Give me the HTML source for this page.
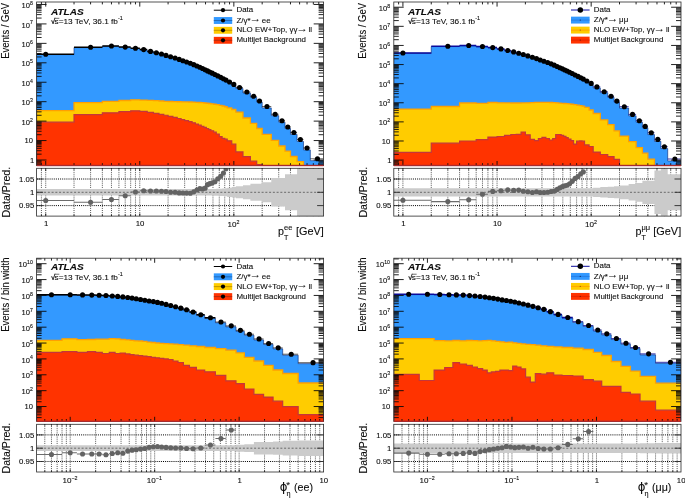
<!DOCTYPE html>
<html lang="en">
<head>
<meta charset="utf-8">
<title>ATLAS Z pT and phi* distributions</title>
<style>
html,body{margin:0;padding:0;background:#fff;}
body{width:685px;height:498px;overflow:hidden;}
svg{display:block;font-family:"Liberation Sans",Arial,Helvetica,sans-serif;}
</style>
</head>
<body>
<svg width="685" height="498" viewBox="0 0 685 498">
<rect width="685" height="498" fill="#fff"/>
<g>
<clipPath id="cma"><rect x="36.6" y="2" width="287" height="163.6"/></clipPath>
<clipPath id="cra"><rect x="36.6" y="168.3" width="287" height="47.8"/></clipPath>
<g clip-path="url(#cma)">
<path d="M36.6 165.6L36.6 54.55L74.03 54.55L74.03 47.55L102.35 47.55L102.35 46.3L118.91 46.3L118.91 47.4L130.66 47.4L130.66 48.5L139.78 48.5L139.78 49.9L147.23 49.9L147.23 51.7L153.52 51.7L153.52 53.1L158.98 53.1L158.98 54.3L163.79 54.3L163.79 55.7L168.09 55.7L168.09 57.1L172.91 57.1L172.91 58.3L177.21 58.3L177.21 59.7L181.1 59.7L181.1 61.1L184.66 61.1L184.66 62.3L188.55 62.3L188.55 63.6L192.11 63.6L192.11 64.96L195.38 64.96L195.38 66.29L198.4 66.29L198.4 67.6L201.22 67.6L201.22 68.85L203.86 68.85L203.86 70.05L206.33 70.05L206.33 71.49L208.67 71.49L208.67 72.57L210.88 72.57L210.88 73.76L213.65 73.76L213.65 75.07L216.24 75.07L216.24 76.48L219.27 76.48L219.27 77.96L222.09 77.96L222.09 79.37L224.73 79.37L224.73 80.71L227.2 80.71L227.2 82.6L231.75 82.6L231.75 85.4L235.83 85.4L235.83 88.45L242.96 88.45L242.96 93L250.4 93L250.4 97.25L256.7 97.25L256.7 102L262.16 102L262.16 107.9L271.27 107.9L271.27 115.65L278.72 115.65L278.72 122.15L285.02 122.15L285.02 128.4L290.47 128.4L290.47 134.4L297.06 134.4L297.06 141.4L303.48 141.4L303.48 149.9L310.31 149.9L310.31 160.65L323.6 160.65L323.6 165.6Z" fill="#3399ff"/>
<path d="M36.6 165.6L36.6 110.6L74.03 110.6L74.03 102.7L102.35 102.7L102.35 101.4L118.91 101.4L118.91 100.5L130.66 100.5L130.66 99.85L139.78 99.85L139.78 100.07L147.23 100.07L147.23 100.32L153.52 100.32L153.52 100.65L158.98 100.65L158.98 101.01L163.79 101.01L163.79 101.31L168.09 101.31L168.09 101.52L172.91 101.52L172.91 101.65L177.21 101.65L177.21 101.74L181.1 101.74L181.1 101.81L184.66 101.81L184.66 101.89L188.55 101.89L188.55 101.99L192.11 101.99L192.11 102.12L195.38 102.12L195.38 102.28L198.4 102.28L198.4 102.49L201.22 102.49L201.22 102.72L203.86 102.72L203.86 102.98L206.33 102.98L206.33 103.25L208.67 103.25L208.67 103.52L210.88 103.52L210.88 103.85L213.65 103.85L213.65 104.24L216.24 104.24L216.24 104.68L219.27 104.68L219.27 105.3L222.09 105.3L222.09 106.01L224.73 106.01L224.73 106.75L227.2 106.75L227.2 107.88L231.75 107.88L231.75 109.5L235.83 109.5L235.83 112.2L242.96 112.2L242.96 118L250.4 118L250.4 123.4L256.7 123.4L256.7 128.5L262.16 128.5L262.16 134.4L271.27 134.4L271.27 140.4L278.72 140.4L278.72 146L285.02 146L285.02 151.1L290.47 151.1L290.47 156.5L297.06 156.5L297.06 161.6L303.48 161.6L303.48 165.6L310.31 165.6L310.31 165.6L323.6 165.6L323.6 165.6Z" fill="#ffcc00"/>
<path d="M36.6 165.6L36.6 110.6L74.03 110.6L74.03 102.7L102.35 102.7L102.35 101.4L118.91 101.4L118.91 100.5L130.66 100.5L130.66 99.85L139.78 99.85L139.78 100.07L147.23 100.07L147.23 100.32L153.52 100.32L153.52 100.65L158.98 100.65L158.98 101.01L163.79 101.01L163.79 101.31L168.09 101.31L168.09 101.52L172.91 101.52L172.91 101.65L177.21 101.65L177.21 101.74L181.1 101.74L181.1 101.81L184.66 101.81L184.66 101.89L188.55 101.89L188.55 101.99L192.11 101.99L192.11 102.12L195.38 102.12L195.38 102.28L198.4 102.28L198.4 102.49L201.22 102.49L201.22 102.72L203.86 102.72L203.86 102.98L206.33 102.98L206.33 103.25L208.67 103.25L208.67 103.52L210.88 103.52L210.88 103.85L213.65 103.85L213.65 104.24L216.24 104.24L216.24 104.68L219.27 104.68L219.27 105.3L222.09 105.3L222.09 106.01L224.73 106.01L224.73 106.75L227.2 106.75L227.2 107.88L231.75 107.88L231.75 109.5L235.83 109.5L235.83 112.2L242.96 112.2L242.96 118L250.4 118L250.4 123.4L256.7 123.4L256.7 128.5L262.16 128.5L262.16 134.4L271.27 134.4L271.27 140.4L278.72 140.4L278.72 146L285.02 146L285.02 151.1L290.47 151.1L290.47 156.5L297.06 156.5L297.06 161.6L303.48 161.6L303.48 165.6L310.31 165.6L310.31 165.6L323.6 165.6L323.6 165.6" fill="none" stroke="#ffa000" stroke-width="1.3"/>
<path d="M36.6 165.6L36.6 122.2L74.03 122.2L74.03 114.7L102.35 114.7L102.35 112.8L118.91 112.8L118.91 111.7L130.66 111.7L130.66 110.8L139.78 110.8L139.78 111.32L147.23 111.32L147.23 112.38L153.52 112.38L153.52 113.34L158.98 113.34L158.98 114.29L163.79 114.29L163.79 115.27L168.09 115.27L168.09 116.34L172.91 116.34L172.91 117.45L177.21 117.45L177.21 118.52L181.1 118.52L181.1 119.54L184.66 119.54L184.66 120.59L188.55 120.59L188.55 121.7L192.11 121.7L192.11 122.83L195.38 122.83L195.38 123.99L198.4 123.99L198.4 125.17L201.22 125.17L201.22 126.33L203.86 126.33L203.86 127.45L206.33 127.45L206.33 128.52L208.67 128.52L208.67 129.54L210.88 129.54L210.88 130.74L213.65 130.74L213.65 132.16L216.24 132.16L216.24 133.99L219.27 133.99L219.27 136.55L222.09 136.55L222.09 138.3L224.73 138.3L224.73 139.22L227.2 139.22L227.2 140.86L231.75 140.86L231.75 144.2L235.83 144.2L235.83 151.9L242.96 151.9L242.96 156.6L250.4 156.6L250.4 161.2L256.7 161.2L256.7 164.7L262.16 164.7L262.16 165.6L271.27 165.6L271.27 165.6L278.72 165.6L278.72 165.6L285.02 165.6L285.02 165.6L290.47 165.6L290.47 165.6L297.06 165.6L297.06 165.6L303.48 165.6L303.48 165.6L310.31 165.6L310.31 165.6L323.6 165.6L323.6 165.6Z" fill="#ff3300"/>
<path d="M36.6 165.6L36.6 122.2L74.03 122.2L74.03 114.7L102.35 114.7L102.35 112.8L118.91 112.8L118.91 111.7L130.66 111.7L130.66 110.8L139.78 110.8L139.78 111.32L147.23 111.32L147.23 112.38L153.52 112.38L153.52 113.34L158.98 113.34L158.98 114.29L163.79 114.29L163.79 115.27L168.09 115.27L168.09 116.34L172.91 116.34L172.91 117.45L177.21 117.45L177.21 118.52L181.1 118.52L181.1 119.54L184.66 119.54L184.66 120.59L188.55 120.59L188.55 121.7L192.11 121.7L192.11 122.83L195.38 122.83L195.38 123.99L198.4 123.99L198.4 125.17L201.22 125.17L201.22 126.33L203.86 126.33L203.86 127.45L206.33 127.45L206.33 128.52L208.67 128.52L208.67 129.54L210.88 129.54L210.88 130.74L213.65 130.74L213.65 132.16L216.24 132.16L216.24 133.99L219.27 133.99L219.27 136.55L222.09 136.55L222.09 138.3L224.73 138.3L224.73 139.22L227.2 139.22L227.2 140.86L231.75 140.86L231.75 144.2L235.83 144.2L235.83 151.9L242.96 151.9L242.96 156.6L250.4 156.6L250.4 161.2L256.7 161.2L256.7 164.7L262.16 164.7L262.16 165.6L271.27 165.6L271.27 165.6L278.72 165.6L278.72 165.6L285.02 165.6L285.02 165.6L290.47 165.6L290.47 165.6L297.06 165.6L297.06 165.6L303.48 165.6L303.48 165.6L310.31 165.6L310.31 165.6L323.6 165.6L323.6 165.6" fill="none" stroke="#c4363a" stroke-width="1.2"/>
<path d="M36.6 165.6L36.6 54.55L74.03 54.55L74.03 47.55L102.35 47.55L102.35 46.3L118.91 46.3L118.91 47.4L130.66 47.4L130.66 48.5L139.78 48.5L139.78 49.9L147.23 49.9L147.23 51.7L153.52 51.7L153.52 53.1L158.98 53.1L158.98 54.3L163.79 54.3L163.79 55.7L168.09 55.7L168.09 57.1L172.91 57.1L172.91 58.3L177.21 58.3L177.21 59.7L181.1 59.7L181.1 61.1L184.66 61.1L184.66 62.3L188.55 62.3L188.55 63.6L192.11 63.6L192.11 64.96L195.38 64.96L195.38 66.29L198.4 66.29L198.4 67.6L201.22 67.6L201.22 68.85L203.86 68.85L203.86 70.05L206.33 70.05L206.33 71.49L208.67 71.49L208.67 72.57L210.88 72.57L210.88 73.76L213.65 73.76L213.65 75.07L216.24 75.07L216.24 76.48L219.27 76.48L219.27 77.96L222.09 77.96L222.09 79.37L224.73 79.37L224.73 80.71L227.2 80.71L227.2 82.6L231.75 82.6L231.75 85.4L235.83 85.4L235.83 88.45L242.96 88.45L242.96 93L250.4 93L250.4 97.25L256.7 97.25L256.7 102L262.16 102L262.16 107.9L271.27 107.9L271.27 115.65L278.72 115.65L278.72 122.15L285.02 122.15L285.02 128.4L290.47 128.4L290.47 134.4L297.06 134.4L297.06 141.4L303.48 141.4L303.48 149.9L310.31 149.9L310.31 160.65L323.6 160.65L323.6 165.6" fill="none" stroke="#0b2f80" stroke-width="0.65"/>
<path d="M36.6 54.25H74.03M74.03 47.25H102.35M102.35 46H118.91M118.91 47.1H130.66M130.66 48.2H139.78M139.78 49.6H147.23M147.23 51.4H153.52M153.52 52.8H158.98M158.98 54H163.79M163.79 55.4H168.09M168.09 56.8H172.91M172.91 58H177.21M177.21 59.4H181.1M181.1 60.8H184.66M184.66 62H188.55M188.55 63.3H192.11M192.11 64.66H195.38M195.38 65.99H198.4M198.4 67.3H201.22M201.22 68.55H203.86M203.86 69.75H206.33M206.33 70.89H208.67M208.67 71.97H210.88M210.88 73.16H213.65M213.65 74.47H216.24M216.24 75.88H219.27M219.27 77.36H222.09M222.09 78.77H224.73M224.73 80.11H227.2" fill="none" stroke="#000" stroke-width="1.5"/>
<path d="M227.2 82H231.75M231.75 84.4H235.83M235.83 87.45H242.96M242.96 92H250.4M250.4 96.25H256.7M256.7 101H262.16M262.16 106.5H271.27M271.27 114.25H278.72M278.72 120.75H285.02M285.02 127H290.47M290.47 132.5H297.06M297.06 139.5H303.48M303.48 148H310.31M310.31 158.75H323.6" fill="none" stroke="#000" stroke-width="0.7" opacity="0.85"/>
</g>
<path d="M36.6 164.31h5M323.6 164.31h-5M36.6 163.01h5M323.6 163.01h-5M36.6 161.88h5M323.6 161.88h-5M36.6 160.89h5M323.6 160.89h-5M36.6 160h9.9M323.6 160h-9.9M36.6 154.15h5M323.6 154.15h-5M36.6 150.72h5M323.6 150.72h-5M36.6 148.3h5M323.6 148.3h-5M36.6 146.41h5M323.6 146.41h-5M36.6 144.87h5M323.6 144.87h-5M36.6 143.57h5M323.6 143.57h-5M36.6 142.44h5M323.6 142.44h-5M36.6 141.45h5M323.6 141.45h-5M36.6 140.56h9.9M323.6 140.56h-9.9M36.6 134.71h5M323.6 134.71h-5M36.6 131.28h5M323.6 131.28h-5M36.6 128.86h5M323.6 128.86h-5M36.6 126.97h5M323.6 126.97h-5M36.6 125.43h5M323.6 125.43h-5M36.6 124.13h5M323.6 124.13h-5M36.6 123h5M323.6 123h-5M36.6 122.01h5M323.6 122.01h-5M36.6 121.12h9.9M323.6 121.12h-9.9M36.6 115.27h5M323.6 115.27h-5M36.6 111.84h5M323.6 111.84h-5M36.6 109.42h5M323.6 109.42h-5M36.6 107.53h5M323.6 107.53h-5M36.6 105.99h5M323.6 105.99h-5M36.6 104.69h5M323.6 104.69h-5M36.6 103.56h5M323.6 103.56h-5M36.6 102.57h5M323.6 102.57h-5M36.6 101.68h9.9M323.6 101.68h-9.9M36.6 95.83h5M323.6 95.83h-5M36.6 92.4h5M323.6 92.4h-5M36.6 89.98h5M323.6 89.98h-5M36.6 88.09h5M323.6 88.09h-5M36.6 86.55h5M323.6 86.55h-5M36.6 85.25h5M323.6 85.25h-5M36.6 84.12h5M323.6 84.12h-5M36.6 83.13h5M323.6 83.13h-5M36.6 82.24h9.9M323.6 82.24h-9.9M36.6 76.39h5M323.6 76.39h-5M36.6 72.96h5M323.6 72.96h-5M36.6 70.54h5M323.6 70.54h-5M36.6 68.65h5M323.6 68.65h-5M36.6 67.11h5M323.6 67.11h-5M36.6 65.81h5M323.6 65.81h-5M36.6 64.68h5M323.6 64.68h-5M36.6 63.69h5M323.6 63.69h-5M36.6 62.8h9.9M323.6 62.8h-9.9M36.6 56.95h5M323.6 56.95h-5M36.6 53.52h5M323.6 53.52h-5M36.6 51.1h5M323.6 51.1h-5M36.6 49.21h5M323.6 49.21h-5M36.6 47.67h5M323.6 47.67h-5M36.6 46.37h5M323.6 46.37h-5M36.6 45.24h5M323.6 45.24h-5M36.6 44.25h5M323.6 44.25h-5M36.6 43.36h9.9M323.6 43.36h-9.9M36.6 37.51h5M323.6 37.51h-5M36.6 34.08h5M323.6 34.08h-5M36.6 31.66h5M323.6 31.66h-5M36.6 29.77h5M323.6 29.77h-5M36.6 28.23h5M323.6 28.23h-5M36.6 26.93h5M323.6 26.93h-5M36.6 25.8h5M323.6 25.8h-5M36.6 24.81h5M323.6 24.81h-5M36.6 23.92h9.9M323.6 23.92h-9.9M36.6 18.07h5M323.6 18.07h-5M36.6 14.64h5M323.6 14.64h-5M36.6 12.22h5M323.6 12.22h-5M36.6 10.33h5M323.6 10.33h-5M36.6 8.79h5M323.6 8.79h-5M36.6 7.49h5M323.6 7.49h-5M36.6 6.36h5M323.6 6.36h-5M36.6 5.37h5M323.6 5.37h-5M36.6 4.48h9.9M323.6 4.48h-9.9M41.41 165.6v-2.4M41.41 2v2.4M41.41 216.1v-1.4M41.41 168.3v1.4M45.72 165.6v-4.6M45.72 2v4.6M45.72 216.1v-2.6M45.72 168.3v2.6M74.03 165.6v-2.4M74.03 2v2.4M74.03 216.1v-1.4M74.03 168.3v1.4M90.59 165.6v-2.4M90.59 2v2.4M90.59 216.1v-1.4M90.59 168.3v1.4M102.35 165.6v-2.4M102.35 2v2.4M102.35 216.1v-1.4M102.35 168.3v1.4M111.46 165.6v-2.4M111.46 2v2.4M111.46 216.1v-1.4M111.46 168.3v1.4M118.91 165.6v-2.4M118.91 2v2.4M118.91 216.1v-1.4M118.91 168.3v1.4M125.21 165.6v-2.4M125.21 2v2.4M125.21 216.1v-1.4M125.21 168.3v1.4M130.66 165.6v-2.4M130.66 2v2.4M130.66 216.1v-1.4M130.66 168.3v1.4M135.47 165.6v-2.4M135.47 2v2.4M135.47 216.1v-1.4M135.47 168.3v1.4M139.78 165.6v-4.6M139.78 2v4.6M139.78 216.1v-2.6M139.78 168.3v2.6M168.09 165.6v-2.4M168.09 2v2.4M168.09 216.1v-1.4M168.09 168.3v1.4M184.66 165.6v-2.4M184.66 2v2.4M184.66 216.1v-1.4M184.66 168.3v1.4M196.41 165.6v-2.4M196.41 2v2.4M196.41 216.1v-1.4M196.41 168.3v1.4M205.53 165.6v-2.4M205.53 2v2.4M205.53 216.1v-1.4M205.53 168.3v1.4M212.97 165.6v-2.4M212.97 2v2.4M212.97 216.1v-1.4M212.97 168.3v1.4M219.27 165.6v-2.4M219.27 2v2.4M219.27 216.1v-1.4M219.27 168.3v1.4M224.73 165.6v-2.4M224.73 2v2.4M224.73 216.1v-1.4M224.73 168.3v1.4M229.54 165.6v-2.4M229.54 2v2.4M229.54 216.1v-1.4M229.54 168.3v1.4M233.84 165.6v-4.6M233.84 2v4.6M233.84 216.1v-2.6M233.84 168.3v2.6M262.16 165.6v-2.4M262.16 2v2.4M262.16 216.1v-1.4M262.16 168.3v1.4M278.72 165.6v-2.4M278.72 2v2.4M278.72 216.1v-1.4M278.72 168.3v1.4M290.47 165.6v-2.4M290.47 2v2.4M290.47 216.1v-1.4M290.47 168.3v1.4M299.59 165.6v-2.4M299.59 2v2.4M299.59 216.1v-1.4M299.59 168.3v1.4M307.04 165.6v-2.4M307.04 2v2.4M307.04 216.1v-1.4M307.04 168.3v1.4M313.33 165.6v-2.4M313.33 2v2.4M313.33 216.1v-1.4M313.33 168.3v1.4M318.79 165.6v-2.4M318.79 2v2.4M318.79 216.1v-1.4M318.79 168.3v1.4" stroke="#0a0a0a" stroke-width="0.9" fill="none"/>
<rect x="36.6" y="2" width="287" height="163.6" fill="none" stroke="#2a2a2a" stroke-width="0.8"/>
<path d="M36.6 165.45H323.6" stroke="#b8282c" stroke-width="1.5" opacity="0.85"/>
<g fill="#000" clip-path="url(#cma)"><circle cx="45.72" cy="54.25" r="2.55"/><circle cx="90.59" cy="47.25" r="2.55"/><circle cx="111.46" cy="46" r="2.55"/><circle cx="125.21" cy="47.1" r="2.55"/><circle cx="135.47" cy="48.2" r="2.55"/><circle cx="143.67" cy="49.6" r="2.55"/><circle cx="150.5" cy="51.4" r="2.55"/><circle cx="156.34" cy="52.8" r="2.55"/><circle cx="161.46" cy="54" r="2.55"/><circle cx="166" cy="55.4" r="2.55"/><circle cx="170.57" cy="56.8" r="2.55"/><circle cx="175.11" cy="58" r="2.55"/><circle cx="179.2" cy="59.4" r="2.55"/><circle cx="182.92" cy="60.8" r="2.55"/><circle cx="186.65" cy="62" r="2.55"/><circle cx="190.37" cy="63.3" r="2.55"/><circle cx="193.77" cy="64.66" r="2.55"/><circle cx="196.92" cy="65.99" r="2.55"/><circle cx="199.84" cy="67.3" r="2.55"/><circle cx="202.56" cy="68.55" r="2.55"/><circle cx="205.11" cy="69.75" r="2.55"/><circle cx="207.52" cy="70.89" r="2.55"/><circle cx="209.79" cy="71.97" r="2.55"/><circle cx="212.29" cy="73.16" r="2.55"/><circle cx="214.97" cy="74.47" r="2.55"/><circle cx="217.79" cy="75.88" r="2.55"/><circle cx="220.7" cy="77.36" r="2.55"/><circle cx="223.43" cy="78.77" r="2.55"/><circle cx="225.98" cy="80.11" r="2.55"/><circle cx="229.54" cy="82" r="2.55"/><circle cx="233.84" cy="84.4" r="2.55"/><circle cx="239.55" cy="87.45" r="2.55"/><circle cx="246.85" cy="92" r="2.55"/><circle cx="253.67" cy="96.25" r="2.55"/><circle cx="259.52" cy="101" r="2.55"/><circle cx="266.97" cy="106.5" r="2.55"/><circle cx="275.17" cy="114.25" r="2.55"/><circle cx="281.99" cy="120.75" r="2.55"/><circle cx="287.84" cy="127" r="2.55"/><circle cx="293.9" cy="132.5" r="2.55"/><circle cx="300.4" cy="139.5" r="2.55"/><circle cx="307.04" cy="148" r="2.55"/><circle cx="317.49" cy="158.75" r="2.55"/></g>
<g clip-path="url(#cra)">
<path d="M37 179H323.6M37 205.6H323.6" stroke="#000" stroke-width="1" stroke-dasharray="1 1.1" fill="none"/>
<path d="M41.41 168V216.1M45.72 168V216.1M74.03 168V216.1M90.59 168V216.1M102.35 168V216.1M111.46 168V216.1M118.91 168V216.1M125.21 168V216.1M130.66 168V216.1M135.47 168V216.1M139.78 168V216.1M168.09 168V216.1M184.66 168V216.1M196.41 168V216.1M205.53 168V216.1M212.97 168V216.1M219.27 168V216.1M224.73 168V216.1M229.54 168V216.1M233.84 168V216.1M262.16 168V216.1M278.72 168V216.1M290.47 168V216.1M299.59 168V216.1M307.04 168V216.1M313.33 168V216.1M318.79 168V216.1" stroke="#111" stroke-width="0.72" stroke-dasharray="1 1.1" fill="none"/>
<path d="M36.6 189.1L36.6 189.1L74.03 189.1L74.03 189.1L102.35 189.1L102.35 189.1L118.91 189.1L118.91 189.1L130.66 189.1L130.66 189.1L139.78 189.1L139.78 189.1L147.23 189.1L147.23 189.1L153.52 189.1L153.52 189.1L158.98 189.1L158.98 189.1L163.79 189.1L163.79 189.1L168.09 189.1L168.09 189.1L172.91 189.1L172.91 189.1L177.21 189.1L177.21 189.1L181.1 189.1L181.1 189.1L184.66 189.1L184.66 189.1L188.55 189.1L188.55 189.1L192.11 189.1L192.11 189.1L195.38 189.1L195.38 189.1L198.4 189.1L198.4 189.1L201.22 189.1L201.22 189.1L203.86 189.1L203.86 189.1L206.33 189.1L206.33 189.1L208.67 189.1L208.67 189.07L210.88 189.07L210.88 188.99L213.65 188.99L213.65 188.89L216.24 188.89L216.24 188.77L219.27 188.77L219.27 188.63L222.09 188.63L222.09 188.49L224.73 188.49L224.73 188.3L227.2 188.3L227.2 187.7L231.75 187.7L231.75 187.1L235.83 187.1L235.83 186.3L242.96 186.3L242.96 185.3L250.4 185.3L250.4 183.8L256.7 183.8L256.7 183.8L262.16 183.8L262.16 182.3L271.27 182.3L271.27 178.1L278.72 178.1L278.72 178.1L285.02 178.1L285.02 174.3L290.47 174.3L290.47 174.3L297.06 174.3L297.06 152.3L303.48 152.3L303.48 152.3L310.31 152.3L310.31 152.3L323.6 152.3L323.6 232.3L310.31 232.3L310.31 232.3L303.48 232.3L303.48 232.3L297.06 232.3L297.06 210.3L290.47 210.3L290.47 210.3L285.02 210.3L285.02 206.5L278.72 206.5L278.72 206.5L271.27 206.5L271.27 202.3L262.16 202.3L262.16 200.8L256.7 200.8L256.7 200.8L250.4 200.8L250.4 199.3L242.96 199.3L242.96 198.3L235.83 198.3L235.83 197.5L231.75 197.5L231.75 196.9L227.2 196.9L227.2 196.3L224.73 196.3L224.73 196.11L222.09 196.11L222.09 195.97L219.27 195.97L219.27 195.83L216.24 195.83L216.24 195.71L213.65 195.71L213.65 195.61L210.88 195.61L210.88 195.53L208.67 195.53L208.67 195.5L206.33 195.5L206.33 195.5L203.86 195.5L203.86 195.5L201.22 195.5L201.22 195.5L198.4 195.5L198.4 195.5L195.38 195.5L195.38 195.5L192.11 195.5L192.11 195.5L188.55 195.5L188.55 195.5L184.66 195.5L184.66 195.5L181.1 195.5L181.1 195.5L177.21 195.5L177.21 195.5L172.91 195.5L172.91 195.5L168.09 195.5L168.09 195.5L163.79 195.5L163.79 195.5L158.98 195.5L158.98 195.5L153.52 195.5L153.52 195.5L147.23 195.5L147.23 195.5L139.78 195.5L139.78 195.5L130.66 195.5L130.66 195.5L118.91 195.5L118.91 195.5L102.35 195.5L102.35 195.5L74.03 195.5L74.03 195.5L36.6 195.5Z" fill="#cbcbcb"/>
<path d="M36.6 192.3H323.6" stroke="#505050" stroke-width="0.8" stroke-dasharray="2 1.75" fill="none"/>
<path d="M36.6 200.51H74.03M74.03 202.25H102.35M102.35 199.47H118.91M118.91 195.72H130.66M130.66 191.98H139.78M139.78 190.75H147.23M147.23 191H153.52M153.52 191H158.98M158.98 191.21H163.79M163.79 191.51H168.09M168.09 192.3H172.91M172.91 192.2H177.21M177.21 192.9H181.1M181.1 192.97H184.66M184.66 193.11H188.55M188.55 193.3H192.11M192.11 191.85H195.38M195.38 189.94H198.4M198.4 188.61H201.22M201.22 188.95H203.86M203.86 188.15H206.33M206.33 184.63H208.67M208.67 183.65H210.88M210.88 182.86H213.65M213.65 181.72H216.24M216.24 178.71H219.27M219.27 176.29H222.09M222.09 173.1H224.73M224.73 168.64H227.2" stroke="#6c6c6c" stroke-width="1.05" fill="none"/>
<g fill="#636363"><circle cx="45.72" cy="200.51" r="2.55"/><circle cx="90.59" cy="202.25" r="2.55"/><circle cx="111.46" cy="199.47" r="2.55"/><circle cx="125.21" cy="195.72" r="2.55"/><circle cx="135.47" cy="191.98" r="2.55"/><circle cx="143.67" cy="190.75" r="2.55"/><circle cx="150.5" cy="191" r="2.55"/><circle cx="156.34" cy="191" r="2.55"/><circle cx="161.46" cy="191.21" r="2.55"/><circle cx="166" cy="191.51" r="2.55"/><circle cx="170.57" cy="192.3" r="2.55"/><circle cx="175.11" cy="192.2" r="2.55"/><circle cx="179.2" cy="192.9" r="2.55"/><circle cx="182.92" cy="192.97" r="2.55"/><circle cx="186.65" cy="193.11" r="2.55"/><circle cx="190.37" cy="193.3" r="2.55"/><circle cx="193.77" cy="191.85" r="2.55"/><circle cx="196.92" cy="189.94" r="2.55"/><circle cx="199.84" cy="188.61" r="2.55"/><circle cx="202.56" cy="188.95" r="2.55"/><circle cx="205.11" cy="188.15" r="2.55"/><circle cx="207.52" cy="184.63" r="2.55"/><circle cx="209.79" cy="183.65" r="2.55"/><circle cx="212.29" cy="182.86" r="2.55"/><circle cx="214.97" cy="181.72" r="2.55"/><circle cx="217.79" cy="178.71" r="2.55"/><circle cx="220.7" cy="176.29" r="2.55"/><circle cx="223.43" cy="173.1" r="2.55"/><circle cx="225.98" cy="168.64" r="2.55"/></g>
</g>
<path d="M36.6 205.6h6.5M323.6 205.6h-6.5M36.6 192.3h6.5M323.6 192.3h-6.5M36.6 179h6.5M323.6 179h-6.5" stroke="#2a2a2a" stroke-width="0.9" fill="none"/>
<rect x="36.6" y="168.3" width="287" height="47.8" fill="none" stroke="#2a2a2a" stroke-width="0.8"/>
<path d="M54.89 18.33h4.45" stroke="#111" stroke-width="0.6"/>
<path d="M213.8 10.2H232.2" stroke="#000" stroke-width="1"/>
<circle cx="223" cy="10.2" r="2.1" fill="#000"/>
<rect x="213.8" y="17.05" width="18.4" height="6.9" fill="#3399ff"/>
<path d="M213.8 20.5H232.2" stroke="#1f5fa8" stroke-width="0.8"/>
<circle cx="223" cy="20.5" r="2.1" fill="#000"/>
<rect x="213.8" y="26.85" width="18.4" height="6.9" fill="#ffcc00"/>
<path d="M213.8 30.3H232.2" stroke="#b38600" stroke-width="0.8"/>
<circle cx="223" cy="30.3" r="2.1" fill="#000"/>
<rect x="213.8" y="36.85" width="18.4" height="6.9" fill="#ff3300"/>
<path d="M213.8 40.3H232.2" stroke="#a02a10" stroke-width="0.8"/>
<circle cx="223" cy="40.3" r="2.1" fill="#000"/>
<g fill="#0c0c0c" stroke="#0c0c0c" stroke-width="0.1"><text transform="translate(34.3 162.74)" font-size="7.6" text-anchor="end">1</text><text transform="translate(33 143.3)" font-size="7.6" text-anchor="end">10</text><text transform="translate(32.8 124.72)" font-size="7.6" text-anchor="end">10<tspan font-size="5.17" dy="-3.04">2</tspan></text><text transform="translate(32.8 105.28)" font-size="7.6" text-anchor="end">10<tspan font-size="5.17" dy="-3.04">3</tspan></text><text transform="translate(32.8 85.84)" font-size="7.6" text-anchor="end">10<tspan font-size="5.17" dy="-3.04">4</tspan></text><text transform="translate(32.8 66.4)" font-size="7.6" text-anchor="end">10<tspan font-size="5.17" dy="-3.04">5</tspan></text><text transform="translate(32.8 46.96)" font-size="7.6" text-anchor="end">10<tspan font-size="5.17" dy="-3.04">6</tspan></text><text transform="translate(32.8 27.52)" font-size="7.6" text-anchor="end">10<tspan font-size="5.17" dy="-3.04">7</tspan></text><text transform="translate(32.8 8.08)" font-size="7.6" text-anchor="end">10<tspan font-size="5.17" dy="-3.04">8</tspan></text><text transform="translate(34.2 181.66) scale(1.05 1)" font-size="7.4" text-anchor="end">1.05</text><text transform="translate(34.2 194.96) scale(1.05 1)" font-size="7.4" text-anchor="end">1</text><text transform="translate(34.2 208.26) scale(1.05 1)" font-size="7.4" text-anchor="end">0.95</text><text transform="translate(46.22 226.4)" font-size="7.8" text-anchor="middle">1</text><text transform="translate(139.98 226.4)" font-size="7.8" text-anchor="middle">10</text><text transform="translate(233.54 227.3)" font-size="8.11" text-anchor="middle">10<tspan font-size="5.3" dy="-3.12">2</tspan></text><text transform="translate(8.8 3) rotate(-90) scale(0.91 1)" font-size="10.4" text-anchor="end">Events / GeV</text><text transform="translate(9.9 192.2) rotate(-90)" font-size="10.6" text-anchor="middle">Data/Pred.</text><text x="278.1" y="234.5" font-size="10.7">p</text><text x="284.1" y="229.9" font-size="7.5">ee</text><text x="284.1" y="240.1" font-size="7.1">T</text><text transform="translate(296.0 234.5) scale(1.02 1)" font-size="10.7">[GeV]</text><text transform="translate(50.9 14.5) scale(1.06 1)" font-size="9.5" font-weight="bold" font-style="italic">ATLAS</text><text transform="translate(50.9 23.9) scale(1.03 1)" font-size="8"><tspan font-size="7.6" dy="0.4" font-weight="bold">√</tspan><tspan dx="-0.64" dy="-0.4">s=13 TeV, 36.1 fb</tspan><tspan font-size="5.28" dy="-3.6">-1</tspan></text><text transform="translate(236.5 12.37) scale(1.03 1)" font-size="7.7">Data</text><text transform="translate(236.5 22.67) scale(1.03 1)" font-size="7.7">Z/γ*<tspan font-size="11" dx="-0.9" dy="-0.75">→</tspan><tspan dy="0.75" dx="-0.6" font-size="5"> </tspan>ee</text><text transform="translate(236.5 32.47) scale(1.03 1)" font-size="7.7">NLO EW+Top, γγ<tspan font-size="11" dx="-0.9" dy="-0.75">→</tspan><tspan dy="0.75" dx="-0.6" font-size="5"> </tspan>ll</text><text transform="translate(236.5 42.47) scale(1.03 1)" font-size="7.7">Multijet Background</text></g>
</g>
<g>
<clipPath id="cmb"><rect x="393.8" y="2" width="287.2" height="163.6"/></clipPath>
<clipPath id="crb"><rect x="393.8" y="168.3" width="287.2" height="47.8"/></clipPath>
<g clip-path="url(#cmb)">
<path d="M393.8 165.6L393.8 53.3L431.26 53.3L431.26 46.55L459.59 46.55L459.59 45.8L476.17 45.8L476.17 46.8L487.93 46.8L487.93 47.9L497.05 47.9L497.05 49.2L504.5 49.2L504.5 50.8L510.81 50.8L510.81 52.2L516.26 52.2L516.26 53.6L521.08 53.6L521.08 54.8L525.39 54.8L525.39 56.2L530.2 56.2L530.2 57.5L534.51 57.5L534.51 58.9L538.4 58.9L538.4 60.3L541.96 60.3L541.96 61.5L545.86 61.5L545.86 62.8L549.41 62.8L549.41 64.15L552.69 64.15L552.69 65.47L555.72 65.47L555.72 66.76L558.54 66.76L558.54 67.99L561.17 67.99L561.17 69.17L563.65 69.17L563.65 70.6L565.99 70.6L565.99 71.67L568.2 71.67L568.2 72.85L570.97 72.85L570.97 74.14L573.57 74.14L573.57 75.53L576.6 75.53L576.6 77L579.42 77L579.42 78.39L582.06 78.39L582.06 79.72L584.54 79.72L584.54 81.6L589.08 81.6L589.08 84.4L593.17 84.4L593.17 87.9L600.3 87.9L600.3 92.7L607.75 92.7L607.75 97.3L614.06 97.3L614.06 102.1L619.51 102.1L619.51 108.1L628.64 108.1L628.64 115.8L636.09 115.8L636.09 122.1L642.39 122.1L642.39 127.8L647.85 127.8L647.85 134.6L654.44 134.6L654.44 141.3L660.87 141.3L660.87 148.6L667.7 148.6L667.7 160.9L681 160.9L681 165.6Z" fill="#3399ff"/>
<path d="M393.8 165.6L393.8 109.1L431.26 109.1L431.26 106.5L459.59 106.5L459.59 103L476.17 103L476.17 103.4L487.93 103.4L487.93 102.5L497.05 102.5L497.05 102.78L504.5 102.78L504.5 102.92L510.81 102.92L510.81 102.98L516.26 102.98L516.26 103L521.08 103L521.08 102.96L525.39 102.96L525.39 102.82L530.2 102.82L530.2 102.63L534.51 102.63L534.51 102.46L538.4 102.46L538.4 102.35L541.96 102.35L541.96 102.3L545.86 102.3L545.86 102.35L549.41 102.35L549.41 102.48L552.69 102.48L552.69 102.65L555.72 102.65L555.72 102.86L558.54 102.86L558.54 103.07L561.17 103.07L561.17 103.29L563.65 103.29L563.65 103.51L565.99 103.51L565.99 103.72L568.2 103.72L568.2 103.96L570.97 103.96L570.97 104.26L573.57 104.26L573.57 104.65L576.6 104.65L576.6 105.13L579.42 105.13L579.42 105.65L582.06 105.65L582.06 106.2L584.54 106.2L584.54 107.41L589.08 107.41L589.08 110L593.17 110L593.17 113.5L600.3 113.5L600.3 119.9L607.75 119.9L607.75 124.7L614.06 124.7L614.06 130.8L619.51 130.8L619.51 136.1L628.64 136.1L628.64 141.6L636.09 141.6L636.09 147.6L642.39 147.6L642.39 153.2L647.85 153.2L647.85 159.2L654.44 159.2L654.44 165.6L660.87 165.6L660.87 165.6L667.7 165.6L667.7 165.6L681 165.6L681 165.6Z" fill="#ffcc00"/>
<path d="M393.8 165.6L393.8 109.1L431.26 109.1L431.26 106.5L459.59 106.5L459.59 103L476.17 103L476.17 103.4L487.93 103.4L487.93 102.5L497.05 102.5L497.05 102.78L504.5 102.78L504.5 102.92L510.81 102.92L510.81 102.98L516.26 102.98L516.26 103L521.08 103L521.08 102.96L525.39 102.96L525.39 102.82L530.2 102.82L530.2 102.63L534.51 102.63L534.51 102.46L538.4 102.46L538.4 102.35L541.96 102.35L541.96 102.3L545.86 102.3L545.86 102.35L549.41 102.35L549.41 102.48L552.69 102.48L552.69 102.65L555.72 102.65L555.72 102.86L558.54 102.86L558.54 103.07L561.17 103.07L561.17 103.29L563.65 103.29L563.65 103.51L565.99 103.51L565.99 103.72L568.2 103.72L568.2 103.96L570.97 103.96L570.97 104.26L573.57 104.26L573.57 104.65L576.6 104.65L576.6 105.13L579.42 105.13L579.42 105.65L582.06 105.65L582.06 106.2L584.54 106.2L584.54 107.41L589.08 107.41L589.08 110L593.17 110L593.17 113.5L600.3 113.5L600.3 119.9L607.75 119.9L607.75 124.7L614.06 124.7L614.06 130.8L619.51 130.8L619.51 136.1L628.64 136.1L628.64 141.6L636.09 141.6L636.09 147.6L642.39 147.6L642.39 153.2L647.85 153.2L647.85 159.2L654.44 159.2L654.44 165.6L660.87 165.6L660.87 165.6L667.7 165.6L667.7 165.6L681 165.6L681 165.6" fill="none" stroke="#ffa000" stroke-width="1.3"/>
<path d="M393.8 165.6L393.8 152.4L431.26 152.4L431.26 143.2L459.59 143.2L459.59 141L476.17 141L476.17 139.7L487.93 139.7L487.93 137.1L497.05 137.1L497.05 136.5L504.5 136.5L504.5 135.4L510.81 135.4L510.81 134.5L516.26 134.5L516.26 134.3L521.08 134.3L521.08 132L525.39 132L525.39 134.8L530.2 134.8L530.2 139.3L534.51 139.3L534.51 140.6L538.4 140.6L538.4 138.5L541.96 138.5L541.96 137.3L545.86 137.3L545.86 138.5L549.41 138.5L549.41 140L552.69 140L552.69 138.5L555.72 138.5L555.72 134.5L558.54 134.5L558.54 134.5L561.17 134.5L561.17 135.3L563.65 135.3L563.65 136.4L565.99 136.4L565.99 137.7L568.2 137.7L568.2 139L570.97 139L570.97 140.6L573.57 140.6L573.57 144.1L576.6 144.1L576.6 141.2L579.42 141.2L579.42 140.9L582.06 140.9L582.06 141.2L584.54 141.2L584.54 144.9L589.08 144.9L589.08 146.5L593.17 146.5L593.17 152.1L600.3 152.1L600.3 154.5L607.75 154.5L607.75 156.6L614.06 156.6L614.06 159.3L619.51 159.3L619.51 165.6L628.64 165.6L628.64 165.6L636.09 165.6L636.09 165.6L642.39 165.6L642.39 165.6L647.85 165.6L647.85 165.6L654.44 165.6L654.44 165.6L660.87 165.6L660.87 165.6L667.7 165.6L667.7 165.6L681 165.6L681 165.6Z" fill="#ff3300"/>
<path d="M393.8 165.6L393.8 152.4L431.26 152.4L431.26 143.2L459.59 143.2L459.59 141L476.17 141L476.17 139.7L487.93 139.7L487.93 137.1L497.05 137.1L497.05 136.5L504.5 136.5L504.5 135.4L510.81 135.4L510.81 134.5L516.26 134.5L516.26 134.3L521.08 134.3L521.08 132L525.39 132L525.39 134.8L530.2 134.8L530.2 139.3L534.51 139.3L534.51 140.6L538.4 140.6L538.4 138.5L541.96 138.5L541.96 137.3L545.86 137.3L545.86 138.5L549.41 138.5L549.41 140L552.69 140L552.69 138.5L555.72 138.5L555.72 134.5L558.54 134.5L558.54 134.5L561.17 134.5L561.17 135.3L563.65 135.3L563.65 136.4L565.99 136.4L565.99 137.7L568.2 137.7L568.2 139L570.97 139L570.97 140.6L573.57 140.6L573.57 144.1L576.6 144.1L576.6 141.2L579.42 141.2L579.42 140.9L582.06 140.9L582.06 141.2L584.54 141.2L584.54 144.9L589.08 144.9L589.08 146.5L593.17 146.5L593.17 152.1L600.3 152.1L600.3 154.5L607.75 154.5L607.75 156.6L614.06 156.6L614.06 159.3L619.51 159.3L619.51 165.6L628.64 165.6L628.64 165.6L636.09 165.6L636.09 165.6L642.39 165.6L642.39 165.6L647.85 165.6L647.85 165.6L654.44 165.6L654.44 165.6L660.87 165.6L660.87 165.6L667.7 165.6L667.7 165.6L681 165.6L681 165.6" fill="none" stroke="#c4363a" stroke-width="1.2"/>
<path d="M393.8 165.6L393.8 53.3L431.26 53.3L431.26 46.55L459.59 46.55L459.59 45.8L476.17 45.8L476.17 46.8L487.93 46.8L487.93 47.9L497.05 47.9L497.05 49.2L504.5 49.2L504.5 50.8L510.81 50.8L510.81 52.2L516.26 52.2L516.26 53.6L521.08 53.6L521.08 54.8L525.39 54.8L525.39 56.2L530.2 56.2L530.2 57.5L534.51 57.5L534.51 58.9L538.4 58.9L538.4 60.3L541.96 60.3L541.96 61.5L545.86 61.5L545.86 62.8L549.41 62.8L549.41 64.15L552.69 64.15L552.69 65.47L555.72 65.47L555.72 66.76L558.54 66.76L558.54 67.99L561.17 67.99L561.17 69.17L563.65 69.17L563.65 70.6L565.99 70.6L565.99 71.67L568.2 71.67L568.2 72.85L570.97 72.85L570.97 74.14L573.57 74.14L573.57 75.53L576.6 75.53L576.6 77L579.42 77L579.42 78.39L582.06 78.39L582.06 79.72L584.54 79.72L584.54 81.6L589.08 81.6L589.08 84.4L593.17 84.4L593.17 87.9L600.3 87.9L600.3 92.7L607.75 92.7L607.75 97.3L614.06 97.3L614.06 102.1L619.51 102.1L619.51 108.1L628.64 108.1L628.64 115.8L636.09 115.8L636.09 122.1L642.39 122.1L642.39 127.8L647.85 127.8L647.85 134.6L654.44 134.6L654.44 141.3L660.87 141.3L660.87 148.6L667.7 148.6L667.7 160.9L681 160.9L681 165.6" fill="none" stroke="#0b2f80" stroke-width="0.65"/>
<path d="M393.8 53H431.26M431.26 46.25H459.59M459.59 45.5H476.17M476.17 46.5H487.93M487.93 47.6H497.05M497.05 48.9H504.5M504.5 50.5H510.81M510.81 51.9H516.26M516.26 53.3H521.08M521.08 54.5H525.39M525.39 55.9H530.2M530.2 57.2H534.51M534.51 58.6H538.4M538.4 60H541.96M541.96 61.2H545.86M545.86 62.5H549.41M549.41 63.85H552.69M552.69 65.17H555.72M555.72 66.46H558.54M558.54 67.69H561.17M561.17 68.87H563.65M563.65 70H565.99M565.99 71.07H568.2M568.2 72.25H570.97M570.97 73.54H573.57M573.57 74.93H576.6M576.6 76.4H579.42M579.42 77.79H582.06M582.06 79.12H584.54" fill="none" stroke="#0a0a9c" stroke-width="1.5"/>
<path d="M584.54 81H589.08M589.08 83.4H593.17M593.17 86.9H600.3M600.3 91.7H607.75M607.75 96.3H614.06M614.06 101.1H619.51M619.51 106.7H628.64M628.64 114.4H636.09M636.09 120.7H642.39M642.39 126.4H647.85M647.85 132.7H654.44M654.44 139.4H660.87M660.87 146.7H667.7M667.7 159H681" fill="none" stroke="#0a0a9c" stroke-width="0.95" opacity="0.85"/>
</g>
<path d="M393.8 164.34h5M681 164.34h-5M393.8 163.06h5M681 163.06h-5M393.8 161.95h5M681 161.95h-5M393.8 160.97h5M681 160.97h-5M393.8 160.1h9.9M681 160.1h-9.9M393.8 154.35h5M681 154.35h-5M393.8 150.98h5M681 150.98h-5M393.8 148.59h5M681 148.59h-5M393.8 146.74h5M681 146.74h-5M393.8 145.23h5M681 145.23h-5M393.8 143.95h5M681 143.95h-5M393.8 142.84h5M681 142.84h-5M393.8 141.86h5M681 141.86h-5M393.8 140.99h9.9M681 140.99h-9.9M393.8 135.24h5M681 135.24h-5M393.8 131.87h5M681 131.87h-5M393.8 129.48h5M681 129.48h-5M393.8 127.63h5M681 127.63h-5M393.8 126.12h5M681 126.12h-5M393.8 124.84h5M681 124.84h-5M393.8 123.73h5M681 123.73h-5M393.8 122.75h5M681 122.75h-5M393.8 121.88h9.9M681 121.88h-9.9M393.8 116.13h5M681 116.13h-5M393.8 112.76h5M681 112.76h-5M393.8 110.37h5M681 110.37h-5M393.8 108.52h5M681 108.52h-5M393.8 107.01h5M681 107.01h-5M393.8 105.73h5M681 105.73h-5M393.8 104.62h5M681 104.62h-5M393.8 103.64h5M681 103.64h-5M393.8 102.77h9.9M681 102.77h-9.9M393.8 97.02h5M681 97.02h-5M393.8 93.65h5M681 93.65h-5M393.8 91.26h5M681 91.26h-5M393.8 89.41h5M681 89.41h-5M393.8 87.9h5M681 87.9h-5M393.8 86.62h5M681 86.62h-5M393.8 85.51h5M681 85.51h-5M393.8 84.53h5M681 84.53h-5M393.8 83.66h9.9M681 83.66h-9.9M393.8 77.91h5M681 77.91h-5M393.8 74.54h5M681 74.54h-5M393.8 72.15h5M681 72.15h-5M393.8 70.3h5M681 70.3h-5M393.8 68.79h5M681 68.79h-5M393.8 67.51h5M681 67.51h-5M393.8 66.4h5M681 66.4h-5M393.8 65.42h5M681 65.42h-5M393.8 64.55h9.9M681 64.55h-9.9M393.8 58.8h5M681 58.8h-5M393.8 55.43h5M681 55.43h-5M393.8 53.04h5M681 53.04h-5M393.8 51.19h5M681 51.19h-5M393.8 49.68h5M681 49.68h-5M393.8 48.4h5M681 48.4h-5M393.8 47.29h5M681 47.29h-5M393.8 46.31h5M681 46.31h-5M393.8 45.44h9.9M681 45.44h-9.9M393.8 39.69h5M681 39.69h-5M393.8 36.32h5M681 36.32h-5M393.8 33.93h5M681 33.93h-5M393.8 32.08h5M681 32.08h-5M393.8 30.57h5M681 30.57h-5M393.8 29.29h5M681 29.29h-5M393.8 28.18h5M681 28.18h-5M393.8 27.2h5M681 27.2h-5M393.8 26.33h9.9M681 26.33h-9.9M393.8 20.58h5M681 20.58h-5M393.8 17.21h5M681 17.21h-5M393.8 14.82h5M681 14.82h-5M393.8 12.97h5M681 12.97h-5M393.8 11.46h5M681 11.46h-5M393.8 10.18h5M681 10.18h-5M393.8 9.07h5M681 9.07h-5M393.8 8.09h5M681 8.09h-5M393.8 7.22h9.9M681 7.22h-9.9M398.61 165.6v-2.4M398.61 2v2.4M398.61 216.1v-1.4M398.61 168.3v1.4M402.92 165.6v-4.6M402.92 2v4.6M402.92 216.1v-2.6M402.92 168.3v2.6M431.26 165.6v-2.4M431.26 2v2.4M431.26 216.1v-1.4M431.26 168.3v1.4M447.83 165.6v-2.4M447.83 2v2.4M447.83 216.1v-1.4M447.83 168.3v1.4M459.59 165.6v-2.4M459.59 2v2.4M459.59 216.1v-1.4M459.59 168.3v1.4M468.71 165.6v-2.4M468.71 2v2.4M468.71 216.1v-1.4M468.71 168.3v1.4M476.17 165.6v-2.4M476.17 2v2.4M476.17 216.1v-1.4M476.17 168.3v1.4M482.47 165.6v-2.4M482.47 2v2.4M482.47 216.1v-1.4M482.47 168.3v1.4M487.93 165.6v-2.4M487.93 2v2.4M487.93 216.1v-1.4M487.93 168.3v1.4M492.74 165.6v-2.4M492.74 2v2.4M492.74 216.1v-1.4M492.74 168.3v1.4M497.05 165.6v-4.6M497.05 2v4.6M497.05 216.1v-2.6M497.05 168.3v2.6M525.39 165.6v-2.4M525.39 2v2.4M525.39 216.1v-1.4M525.39 168.3v1.4M541.96 165.6v-2.4M541.96 2v2.4M541.96 216.1v-1.4M541.96 168.3v1.4M553.72 165.6v-2.4M553.72 2v2.4M553.72 216.1v-1.4M553.72 168.3v1.4M562.84 165.6v-2.4M562.84 2v2.4M562.84 216.1v-1.4M562.84 168.3v1.4M570.3 165.6v-2.4M570.3 2v2.4M570.3 216.1v-1.4M570.3 168.3v1.4M576.6 165.6v-2.4M576.6 2v2.4M576.6 216.1v-1.4M576.6 168.3v1.4M582.06 165.6v-2.4M582.06 2v2.4M582.06 216.1v-1.4M582.06 168.3v1.4M586.87 165.6v-2.4M586.87 2v2.4M586.87 216.1v-1.4M586.87 168.3v1.4M591.18 165.6v-4.6M591.18 2v4.6M591.18 216.1v-2.6M591.18 168.3v2.6M619.51 165.6v-2.4M619.51 2v2.4M619.51 216.1v-1.4M619.51 168.3v1.4M636.09 165.6v-2.4M636.09 2v2.4M636.09 216.1v-1.4M636.09 168.3v1.4M647.85 165.6v-2.4M647.85 2v2.4M647.85 216.1v-1.4M647.85 168.3v1.4M656.97 165.6v-2.4M656.97 2v2.4M656.97 216.1v-1.4M656.97 168.3v1.4M664.42 165.6v-2.4M664.42 2v2.4M664.42 216.1v-1.4M664.42 168.3v1.4M670.73 165.6v-2.4M670.73 2v2.4M670.73 216.1v-1.4M670.73 168.3v1.4M676.19 165.6v-2.4M676.19 2v2.4M676.19 216.1v-1.4M676.19 168.3v1.4" stroke="#0a0a0a" stroke-width="0.9" fill="none"/>
<rect x="393.8" y="2" width="287.2" height="163.6" fill="none" stroke="#2a2a2a" stroke-width="0.8"/>
<path d="M393.8 165.45H681" stroke="#b8282c" stroke-width="1.5" opacity="0.85"/>
<g fill="#000" clip-path="url(#cmb)"><circle cx="402.92" cy="53" r="2.55"/><circle cx="447.83" cy="46.25" r="2.55"/><circle cx="468.71" cy="45.5" r="2.55"/><circle cx="482.47" cy="46.5" r="2.55"/><circle cx="492.74" cy="47.6" r="2.55"/><circle cx="500.95" cy="48.9" r="2.55"/><circle cx="507.78" cy="50.5" r="2.55"/><circle cx="513.63" cy="51.9" r="2.55"/><circle cx="518.74" cy="53.3" r="2.55"/><circle cx="523.29" cy="54.5" r="2.55"/><circle cx="527.86" cy="55.9" r="2.55"/><circle cx="532.41" cy="57.2" r="2.55"/><circle cx="536.5" cy="58.6" r="2.55"/><circle cx="540.22" cy="60" r="2.55"/><circle cx="543.96" cy="61.2" r="2.55"/><circle cx="547.67" cy="62.5" r="2.55"/><circle cx="551.08" cy="63.85" r="2.55"/><circle cx="554.23" cy="65.17" r="2.55"/><circle cx="557.15" cy="66.46" r="2.55"/><circle cx="559.88" cy="67.69" r="2.55"/><circle cx="562.43" cy="68.87" r="2.55"/><circle cx="564.84" cy="70" r="2.55"/><circle cx="567.11" cy="71.07" r="2.55"/><circle cx="569.61" cy="72.25" r="2.55"/><circle cx="572.29" cy="73.54" r="2.55"/><circle cx="575.11" cy="74.93" r="2.55"/><circle cx="578.03" cy="76.4" r="2.55"/><circle cx="580.76" cy="77.79" r="2.55"/><circle cx="583.31" cy="79.12" r="2.55"/><circle cx="586.87" cy="81" r="2.55"/><circle cx="591.18" cy="83.4" r="2.55"/><circle cx="596.89" cy="86.9" r="2.55"/><circle cx="604.2" cy="91.7" r="2.55"/><circle cx="611.03" cy="96.3" r="2.55"/><circle cx="616.88" cy="101.1" r="2.55"/><circle cx="624.33" cy="106.7" r="2.55"/><circle cx="632.53" cy="114.4" r="2.55"/><circle cx="639.36" cy="120.7" r="2.55"/><circle cx="645.21" cy="126.4" r="2.55"/><circle cx="651.28" cy="132.7" r="2.55"/><circle cx="657.78" cy="139.4" r="2.55"/><circle cx="664.42" cy="146.7" r="2.55"/><circle cx="674.89" cy="159" r="2.55"/></g>
<g clip-path="url(#crb)">
<path d="M394 179H681M394 205.6H681" stroke="#000" stroke-width="1" stroke-dasharray="1 1.1" fill="none"/>
<path d="M398.61 168V216.1M402.92 168V216.1M431.26 168V216.1M447.83 168V216.1M459.59 168V216.1M468.71 168V216.1M476.17 168V216.1M482.47 168V216.1M487.93 168V216.1M492.74 168V216.1M497.05 168V216.1M525.39 168V216.1M541.96 168V216.1M553.72 168V216.1M562.84 168V216.1M570.3 168V216.1M576.6 168V216.1M582.06 168V216.1M586.87 168V216.1M591.18 168V216.1M619.51 168V216.1M636.09 168V216.1M647.85 168V216.1M656.97 168V216.1M664.42 168V216.1M670.73 168V216.1M676.19 168V216.1" stroke="#111" stroke-width="0.72" stroke-dasharray="1 1.1" fill="none"/>
<path d="M393.8 188.2L393.8 188.2L431.26 188.2L431.26 188.2L459.59 188.2L459.59 188.2L476.17 188.2L476.17 188.2L487.93 188.2L487.93 188.2L497.05 188.2L497.05 188.2L504.5 188.2L504.5 188.2L510.81 188.2L510.81 188.2L516.26 188.2L516.26 188.2L521.08 188.2L521.08 188.2L525.39 188.2L525.39 188.2L530.2 188.2L530.2 188.2L534.51 188.2L534.51 188.2L538.4 188.2L538.4 188.2L541.96 188.2L541.96 188.2L545.86 188.2L545.86 188.2L549.41 188.2L549.41 188.2L552.69 188.2L552.69 188.2L555.72 188.2L555.72 188.2L558.54 188.2L558.54 188.2L561.17 188.2L561.17 188.2L563.65 188.2L563.65 188.2L565.99 188.2L565.99 188.2L568.2 188.2L568.2 188.2L570.97 188.2L570.97 188.2L573.57 188.2L573.57 188.2L576.6 188.2L576.6 188.2L579.42 188.2L579.42 188.2L582.06 188.2L582.06 188.2L584.54 188.2L584.54 188.2L589.08 188.2L589.08 188.2L593.17 188.2L593.17 187.7L600.3 187.7L600.3 187.1L607.75 187.1L607.75 186.7L614.06 186.7L614.06 186.3L619.51 186.3L619.51 185.4L628.64 185.4L628.64 184.1L636.09 184.1L636.09 182.9L642.39 182.9L642.39 180.7L647.85 180.7L647.85 180.7L654.44 180.7L654.44 170.5L660.87 170.5L660.87 152.3L667.7 152.3L667.7 174.3L681 174.3L681 210.3L667.7 210.3L667.7 232.3L660.87 232.3L660.87 214.1L654.44 214.1L654.44 203.9L647.85 203.9L647.85 203.9L642.39 203.9L642.39 201.7L636.09 201.7L636.09 200.5L628.64 200.5L628.64 199.2L619.51 199.2L619.51 198.3L614.06 198.3L614.06 197.9L607.75 197.9L607.75 197.5L600.3 197.5L600.3 196.9L593.17 196.9L593.17 196.4L589.08 196.4L589.08 196.4L584.54 196.4L584.54 196.4L582.06 196.4L582.06 196.4L579.42 196.4L579.42 196.4L576.6 196.4L576.6 196.4L573.57 196.4L573.57 196.4L570.97 196.4L570.97 196.4L568.2 196.4L568.2 196.4L565.99 196.4L565.99 196.4L563.65 196.4L563.65 196.4L561.17 196.4L561.17 196.4L558.54 196.4L558.54 196.4L555.72 196.4L555.72 196.4L552.69 196.4L552.69 196.4L549.41 196.4L549.41 196.4L545.86 196.4L545.86 196.4L541.96 196.4L541.96 196.4L538.4 196.4L538.4 196.4L534.51 196.4L534.51 196.4L530.2 196.4L530.2 196.4L525.39 196.4L525.39 196.4L521.08 196.4L521.08 196.4L516.26 196.4L516.26 196.4L510.81 196.4L510.81 196.4L504.5 196.4L504.5 196.4L497.05 196.4L497.05 196.4L487.93 196.4L487.93 196.4L476.17 196.4L476.17 196.4L459.59 196.4L459.59 196.4L431.26 196.4L431.26 196.4L393.8 196.4Z" fill="#cbcbcb"/>
<path d="M393.8 192.3H681" stroke="#505050" stroke-width="0.8" stroke-dasharray="2 1.75" fill="none"/>
<path d="M393.8 200.3H431.26M431.26 201.6H459.59M459.59 199.8H476.17M476.17 194.31H487.93M487.93 191.39H497.05M497.05 190.7H504.5M504.5 189.9H510.81M510.81 190.4H516.26M516.26 190H521.08M521.08 191.2H525.39M525.39 191.7H530.2M530.2 192.5H534.51M534.51 191.7H538.4M538.4 192.49H541.96M541.96 192.5H545.86M545.86 192.25H549.41M549.41 191.55H552.69M552.69 191.08H555.72M555.72 189.42H558.54M558.54 187.87H561.17M561.17 186.66H563.65M563.65 185.82H565.99M565.99 185.27H568.2M568.2 183.78H570.97M570.97 181.35H573.57M573.57 178.4H576.6M576.6 176.43H579.42M579.42 173.71H582.06M582.06 171.9H584.54" stroke="#6c6c6c" stroke-width="1.05" fill="none"/>
<g fill="#636363"><circle cx="402.92" cy="200.3" r="2.55"/><circle cx="447.83" cy="201.6" r="2.55"/><circle cx="468.71" cy="199.8" r="2.55"/><circle cx="482.47" cy="194.31" r="2.55"/><circle cx="492.74" cy="191.39" r="2.55"/><circle cx="500.95" cy="190.7" r="2.55"/><circle cx="507.78" cy="189.9" r="2.55"/><circle cx="513.63" cy="190.4" r="2.55"/><circle cx="518.74" cy="190" r="2.55"/><circle cx="523.29" cy="191.2" r="2.55"/><circle cx="527.86" cy="191.7" r="2.55"/><circle cx="532.41" cy="192.5" r="2.55"/><circle cx="536.5" cy="191.7" r="2.55"/><circle cx="540.22" cy="192.49" r="2.55"/><circle cx="543.96" cy="192.5" r="2.55"/><circle cx="547.67" cy="192.25" r="2.55"/><circle cx="551.08" cy="191.55" r="2.55"/><circle cx="554.23" cy="191.08" r="2.55"/><circle cx="557.15" cy="189.42" r="2.55"/><circle cx="559.88" cy="187.87" r="2.55"/><circle cx="562.43" cy="186.66" r="2.55"/><circle cx="564.84" cy="185.82" r="2.55"/><circle cx="567.11" cy="185.27" r="2.55"/><circle cx="569.61" cy="183.78" r="2.55"/><circle cx="572.29" cy="181.35" r="2.55"/><circle cx="575.11" cy="178.4" r="2.55"/><circle cx="578.03" cy="176.43" r="2.55"/><circle cx="580.76" cy="173.71" r="2.55"/><circle cx="583.31" cy="171.9" r="2.55"/></g>
</g>
<path d="M393.8 205.6h6.5M681 205.6h-6.5M393.8 192.3h6.5M681 192.3h-6.5M393.8 179h6.5M681 179h-6.5" stroke="#2a2a2a" stroke-width="0.9" fill="none"/>
<rect x="393.8" y="168.3" width="287.2" height="47.8" fill="none" stroke="#2a2a2a" stroke-width="0.8"/>
<path d="M412.19 18.33h4.45" stroke="#111" stroke-width="0.6"/>
<path d="M571 10H589.6" stroke="#0a0a9c" stroke-width="1"/>
<circle cx="580.3" cy="10" r="2.75" fill="#000"/>
<rect x="571" y="16.65" width="18.6" height="6.9" fill="#3399ff"/>
<path d="M571 20.1H589.6" stroke="#2277dd" stroke-width="0.8"/>
<circle cx="580.3" cy="20.1" r="0.7" fill="#123a7a"/>
<rect x="571" y="26.65" width="18.6" height="6.9" fill="#ffcc00"/>
<path d="M571 30.1H589.6" stroke="#ff9900" stroke-width="0.8"/>
<circle cx="580.3" cy="30.1" r="0.7" fill="#a86a00"/>
<rect x="571" y="36.65" width="18.6" height="6.9" fill="#ff3300"/>
<path d="M571 40.1H589.6" stroke="#dd2200" stroke-width="0.8"/>
<circle cx="580.3" cy="40.1" r="0.7" fill="#8a1c00"/>
<g fill="#0c0c0c" stroke="#0c0c0c" stroke-width="0.1"><text transform="translate(391.5 162.84)" font-size="7.6" text-anchor="end">1</text><text transform="translate(390.2 143.73)" font-size="7.6" text-anchor="end">10</text><text transform="translate(390 125.48)" font-size="7.6" text-anchor="end">10<tspan font-size="5.17" dy="-3.04">2</tspan></text><text transform="translate(390 106.37)" font-size="7.6" text-anchor="end">10<tspan font-size="5.17" dy="-3.04">3</tspan></text><text transform="translate(390 87.26)" font-size="7.6" text-anchor="end">10<tspan font-size="5.17" dy="-3.04">4</tspan></text><text transform="translate(390 68.15)" font-size="7.6" text-anchor="end">10<tspan font-size="5.17" dy="-3.04">5</tspan></text><text transform="translate(390 49.04)" font-size="7.6" text-anchor="end">10<tspan font-size="5.17" dy="-3.04">6</tspan></text><text transform="translate(390 29.93)" font-size="7.6" text-anchor="end">10<tspan font-size="5.17" dy="-3.04">7</tspan></text><text transform="translate(390 10.82)" font-size="7.6" text-anchor="end">10<tspan font-size="5.17" dy="-3.04">8</tspan></text><text transform="translate(391.4 181.66) scale(1.05 1)" font-size="7.4" text-anchor="end">1.05</text><text transform="translate(391.4 194.96) scale(1.05 1)" font-size="7.4" text-anchor="end">1</text><text transform="translate(391.4 208.26) scale(1.05 1)" font-size="7.4" text-anchor="end">0.95</text><text transform="translate(403.42 226.4)" font-size="7.8" text-anchor="middle">1</text><text transform="translate(497.25 226.4)" font-size="7.8" text-anchor="middle">10</text><text transform="translate(590.88 227.3)" font-size="8.11" text-anchor="middle">10<tspan font-size="5.3" dy="-3.12">2</tspan></text><text transform="translate(366 3) rotate(-90) scale(0.91 1)" font-size="10.4" text-anchor="end">Events / GeV</text><text transform="translate(367.2 192.2) rotate(-90)" font-size="10.6" text-anchor="middle">Data/Pred.</text><text x="635.4" y="234.5" font-size="10.7">p</text><text x="641.4" y="229.9" font-size="7.5">μμ</text><text x="641.4" y="240.1" font-size="7.1">T</text><text transform="translate(653.3 234.5) scale(1.02 1)" font-size="10.7">[GeV]</text><text transform="translate(408.1 14.5) scale(1.06 1)" font-size="9.5" font-weight="bold" font-style="italic">ATLAS</text><text transform="translate(408.2 23.9) scale(1.03 1)" font-size="8"><tspan font-size="7.6" dy="0.4" font-weight="bold">√</tspan><tspan dx="-0.64" dy="-0.4">s=13 TeV, 36.1 fb</tspan><tspan font-size="5.28" dy="-3.6">-1</tspan></text><text transform="translate(593.8 12.17) scale(1.03 1)" font-size="7.7">Data</text><text transform="translate(593.8 22.27) scale(1.03 1)" font-size="7.7">Z/γ*<tspan font-size="11" dx="-0.9" dy="-0.75">→</tspan><tspan dy="0.75" dx="-0.6" font-size="5"> </tspan>μμ</text><text transform="translate(593.8 32.27) scale(1.03 1)" font-size="7.7">NLO EW+Top, γγ<tspan font-size="11" dx="-0.9" dy="-0.75">→</tspan><tspan dy="0.75" dx="-0.6" font-size="5"> </tspan>ll</text><text transform="translate(593.8 42.27) scale(1.03 1)" font-size="7.7">Multijet Background</text></g>
</g>
<g>
<clipPath id="cmc"><rect x="36.6" y="258.2" width="287" height="163.2"/></clipPath>
<clipPath id="crc"><rect x="36.6" y="424.3" width="287" height="47.7"/></clipPath>
<g clip-path="url(#cmc)">
<path d="M36.6 421.4L36.6 295L62.03 295L62.03 295L76.9 295L76.9 295.2L87.45 295.2L87.45 295.39L95.64 295.39L95.64 295.6L102.32 295.6L102.32 295.8L109.27 295.8L109.27 296.3L115.1 296.3L115.1 296.69L120.13 296.69L120.13 297.21L125.38 297.21L125.38 297.81L129.97 297.81L129.97 298.41L134.05 298.41L134.05 299.04L138.3 299.04L138.3 299.81L142.62 299.81L142.62 300.61L146.94 300.61L146.94 301.26L151.21 301.26L151.21 301.89L155.4 301.89L155.4 302.69L159.48 302.69L159.48 303.62L163.73 303.62L163.73 304.68L168.3 304.68L168.3 305.84L173.04 305.84L173.04 307L178.02 307L178.02 308.46L183.43 308.46L183.43 310.03L189.44 310.03L189.44 312.32L196.41 312.32L196.41 315.16L204.69 315.16L204.69 318.38L215.43 318.38L215.43 322.74L225.79 322.74L225.79 326.8L236 326.8L236 331.36L244.36 331.36L244.36 335.18L253.91 335.18L253.91 339.89L263.58 339.89L263.58 344.53L273.07 344.53L273.07 348.85L282.68 348.85L282.68 355.19L298.17 355.19L298.17 363.65L323.6 363.65L323.6 421.4Z" fill="#3399ff"/>
<path d="M36.6 421.4L36.6 340.3L62.03 340.3L62.03 338.8L76.9 338.8L76.9 339.7L87.45 339.7L87.45 339.5L95.64 339.5L95.64 339.2L102.32 339.2L102.32 339.2L109.27 339.2L109.27 338.6L115.1 338.6L115.1 338.8L120.13 338.8L120.13 339.5L125.38 339.5L125.38 339.9L129.97 339.9L129.97 340.3L134.05 340.3L134.05 340.8L138.3 340.8L138.3 341L142.62 341L142.62 341.4L146.94 341.4L146.94 342.1L151.21 342.1L151.21 342.5L155.4 342.5L155.4 343L159.48 343L159.48 343.4L163.73 343.4L163.73 343.6L168.3 343.6L168.3 343.9L173.04 343.9L173.04 344.2L178.02 344.2L178.02 344.6L183.43 344.6L183.43 345.1L189.44 345.1L189.44 345.8L196.41 345.8L196.41 346.5L204.69 346.5L204.69 347.5L215.43 347.5L215.43 348.6L225.79 348.6L225.79 350.2L236 350.2L236 352.9L244.36 352.9L244.36 357.3L253.91 357.3L253.91 361L263.58 361L263.58 365.4L273.07 365.4L273.07 370L282.68 370L282.68 373.5L298.17 373.5L298.17 383L323.6 383L323.6 421.4Z" fill="#ffcc00"/>
<path d="M36.6 421.4L36.6 340.3L62.03 340.3L62.03 338.8L76.9 338.8L76.9 339.7L87.45 339.7L87.45 339.5L95.64 339.5L95.64 339.2L102.32 339.2L102.32 339.2L109.27 339.2L109.27 338.6L115.1 338.6L115.1 338.8L120.13 338.8L120.13 339.5L125.38 339.5L125.38 339.9L129.97 339.9L129.97 340.3L134.05 340.3L134.05 340.8L138.3 340.8L138.3 341L142.62 341L142.62 341.4L146.94 341.4L146.94 342.1L151.21 342.1L151.21 342.5L155.4 342.5L155.4 343L159.48 343L159.48 343.4L163.73 343.4L163.73 343.6L168.3 343.6L168.3 343.9L173.04 343.9L173.04 344.2L178.02 344.2L178.02 344.6L183.43 344.6L183.43 345.1L189.44 345.1L189.44 345.8L196.41 345.8L196.41 346.5L204.69 346.5L204.69 347.5L215.43 347.5L215.43 348.6L225.79 348.6L225.79 350.2L236 350.2L236 352.9L244.36 352.9L244.36 357.3L253.91 357.3L253.91 361L263.58 361L263.58 365.4L273.07 365.4L273.07 370L282.68 370L282.68 373.5L298.17 373.5L298.17 383L323.6 383L323.6 421.4" fill="none" stroke="#ffa000" stroke-width="1.3"/>
<path d="M36.6 421.4L36.6 352.4L62.03 352.4L62.03 351.7L76.9 351.7L76.9 352.4L87.45 352.4L87.45 351.7L95.64 351.7L95.64 352.4L102.32 352.4L102.32 353.5L109.27 353.5L109.27 352.4L115.1 352.4L115.1 353.5L120.13 353.5L120.13 353L125.38 353L125.38 353.9L129.97 353.9L129.97 354.6L134.05 354.6L134.05 355.2L138.3 355.2L138.3 355.7L142.62 355.7L142.62 356.1L146.94 356.1L146.94 356.7L151.21 356.7L151.21 357.4L155.4 357.4L155.4 357.8L159.48 357.8L159.48 358.3L163.73 358.3L163.73 358.9L168.3 358.9L168.3 359.5L173.04 359.5L173.04 361L178.02 361L178.02 362.5L183.43 362.5L183.43 365.4L189.44 365.4L189.44 367.3L196.41 367.3L196.41 370L204.69 370L204.69 371.8L215.43 371.8L215.43 375.4L225.79 375.4L225.79 380.8L236 380.8L236 383.6L244.36 383.6L244.36 389L253.91 389L253.91 394.4L263.58 394.4L263.58 397.1L273.07 397.1L273.07 401.2L282.68 401.2L282.68 406.6L298.17 406.6L298.17 414.7L323.6 414.7L323.6 421.4Z" fill="#ff3300"/>
<path d="M36.6 421.4L36.6 352.4L62.03 352.4L62.03 351.7L76.9 351.7L76.9 352.4L87.45 352.4L87.45 351.7L95.64 351.7L95.64 352.4L102.32 352.4L102.32 353.5L109.27 353.5L109.27 352.4L115.1 352.4L115.1 353.5L120.13 353.5L120.13 353L125.38 353L125.38 353.9L129.97 353.9L129.97 354.6L134.05 354.6L134.05 355.2L138.3 355.2L138.3 355.7L142.62 355.7L142.62 356.1L146.94 356.1L146.94 356.7L151.21 356.7L151.21 357.4L155.4 357.4L155.4 357.8L159.48 357.8L159.48 358.3L163.73 358.3L163.73 358.9L168.3 358.9L168.3 359.5L173.04 359.5L173.04 361L178.02 361L178.02 362.5L183.43 362.5L183.43 365.4L189.44 365.4L189.44 367.3L196.41 367.3L196.41 370L204.69 370L204.69 371.8L215.43 371.8L215.43 375.4L225.79 375.4L225.79 380.8L236 380.8L236 383.6L244.36 383.6L244.36 389L253.91 389L253.91 394.4L263.58 394.4L263.58 397.1L273.07 397.1L273.07 401.2L282.68 401.2L282.68 406.6L298.17 406.6L298.17 414.7L323.6 414.7L323.6 421.4" fill="none" stroke="#c4363a" stroke-width="1.2"/>
<path d="M36.6 421.4L36.6 295L62.03 295L62.03 295L76.9 295L76.9 295.2L87.45 295.2L87.45 295.39L95.64 295.39L95.64 295.6L102.32 295.6L102.32 295.8L109.27 295.8L109.27 296.3L115.1 296.3L115.1 296.69L120.13 296.69L120.13 297.21L125.38 297.21L125.38 297.81L129.97 297.81L129.97 298.41L134.05 298.41L134.05 299.04L138.3 299.04L138.3 299.81L142.62 299.81L142.62 300.61L146.94 300.61L146.94 301.26L151.21 301.26L151.21 301.89L155.4 301.89L155.4 302.69L159.48 302.69L159.48 303.62L163.73 303.62L163.73 304.68L168.3 304.68L168.3 305.84L173.04 305.84L173.04 307L178.02 307L178.02 308.46L183.43 308.46L183.43 310.03L189.44 310.03L189.44 312.32L196.41 312.32L196.41 315.16L204.69 315.16L204.69 318.38L215.43 318.38L215.43 322.74L225.79 322.74L225.79 326.8L236 326.8L236 331.36L244.36 331.36L244.36 335.18L253.91 335.18L253.91 339.89L263.58 339.89L263.58 344.53L273.07 344.53L273.07 348.85L282.68 348.85L282.68 355.19L298.17 355.19L298.17 363.65L323.6 363.65L323.6 421.4" fill="none" stroke="#0b2f80" stroke-width="0.65"/>
<path d="M36.6 294.7H62.03M62.03 294.7H76.9M76.9 294.9H87.45M87.45 295.09H95.64M95.64 295.3H102.32M102.32 295.5H109.27M109.27 296H115.1M115.1 296.39H120.13M120.13 296.91H125.38M125.38 297.51H129.97M129.97 298.11H134.05M134.05 298.74H138.3M138.3 299.51H142.62M142.62 300.31H146.94M146.94 300.96H151.21M151.21 301.59H155.4M155.4 302.39H159.48M159.48 303.32H163.73M163.73 304.38H168.3M168.3 305.54H173.04M173.04 306.7H178.02M178.02 308.16H183.43M183.43 309.73H189.44M189.44 312.02H196.41M196.41 314.76H204.69M204.69 317.81H215.43" fill="none" stroke="#000" stroke-width="1.5"/>
<path d="M215.43 321.99H225.79M225.79 325.87H236M236 330.36H244.36M244.36 334.18H253.91M253.91 338.89H263.58M263.58 343.53H273.07M273.07 347.85H282.68M282.68 354.19H298.17M298.17 362.65H323.6" fill="none" stroke="#000" stroke-width="0.7" opacity="0.85"/>
</g>
<path d="M36.6 417.62h5M323.6 417.62h-5M36.6 414.83h5M323.6 414.83h-5M36.6 412.85h5M323.6 412.85h-5M36.6 411.31h5M323.6 411.31h-5M36.6 410.05h5M323.6 410.05h-5M36.6 408.99h5M323.6 408.99h-5M36.6 408.07h5M323.6 408.07h-5M36.6 407.26h5M323.6 407.26h-5M36.6 406.53h9.9M323.6 406.53h-9.9M36.6 401.75h5M323.6 401.75h-5M36.6 398.96h5M323.6 398.96h-5M36.6 396.98h5M323.6 396.98h-5M36.6 395.44h5M323.6 395.44h-5M36.6 394.18h5M323.6 394.18h-5M36.6 393.12h5M323.6 393.12h-5M36.6 392.2h5M323.6 392.2h-5M36.6 391.39h5M323.6 391.39h-5M36.6 390.66h9.9M323.6 390.66h-9.9M36.6 385.88h5M323.6 385.88h-5M36.6 383.09h5M323.6 383.09h-5M36.6 381.11h5M323.6 381.11h-5M36.6 379.57h5M323.6 379.57h-5M36.6 378.31h5M323.6 378.31h-5M36.6 377.25h5M323.6 377.25h-5M36.6 376.33h5M323.6 376.33h-5M36.6 375.52h5M323.6 375.52h-5M36.6 374.79h9.9M323.6 374.79h-9.9M36.6 370.01h5M323.6 370.01h-5M36.6 367.22h5M323.6 367.22h-5M36.6 365.24h5M323.6 365.24h-5M36.6 363.7h5M323.6 363.7h-5M36.6 362.44h5M323.6 362.44h-5M36.6 361.38h5M323.6 361.38h-5M36.6 360.46h5M323.6 360.46h-5M36.6 359.65h5M323.6 359.65h-5M36.6 358.92h9.9M323.6 358.92h-9.9M36.6 354.14h5M323.6 354.14h-5M36.6 351.35h5M323.6 351.35h-5M36.6 349.37h5M323.6 349.37h-5M36.6 347.83h5M323.6 347.83h-5M36.6 346.57h5M323.6 346.57h-5M36.6 345.51h5M323.6 345.51h-5M36.6 344.59h5M323.6 344.59h-5M36.6 343.78h5M323.6 343.78h-5M36.6 343.05h9.9M323.6 343.05h-9.9M36.6 338.27h5M323.6 338.27h-5M36.6 335.48h5M323.6 335.48h-5M36.6 333.5h5M323.6 333.5h-5M36.6 331.96h5M323.6 331.96h-5M36.6 330.7h5M323.6 330.7h-5M36.6 329.64h5M323.6 329.64h-5M36.6 328.72h5M323.6 328.72h-5M36.6 327.91h5M323.6 327.91h-5M36.6 327.18h9.9M323.6 327.18h-9.9M36.6 322.4h5M323.6 322.4h-5M36.6 319.61h5M323.6 319.61h-5M36.6 317.63h5M323.6 317.63h-5M36.6 316.09h5M323.6 316.09h-5M36.6 314.83h5M323.6 314.83h-5M36.6 313.77h5M323.6 313.77h-5M36.6 312.85h5M323.6 312.85h-5M36.6 312.04h5M323.6 312.04h-5M36.6 311.31h9.9M323.6 311.31h-9.9M36.6 306.53h5M323.6 306.53h-5M36.6 303.74h5M323.6 303.74h-5M36.6 301.76h5M323.6 301.76h-5M36.6 300.22h5M323.6 300.22h-5M36.6 298.96h5M323.6 298.96h-5M36.6 297.9h5M323.6 297.9h-5M36.6 296.98h5M323.6 296.98h-5M36.6 296.17h5M323.6 296.17h-5M36.6 295.44h9.9M323.6 295.44h-9.9M36.6 290.66h5M323.6 290.66h-5M36.6 287.87h5M323.6 287.87h-5M36.6 285.89h5M323.6 285.89h-5M36.6 284.35h5M323.6 284.35h-5M36.6 283.09h5M323.6 283.09h-5M36.6 282.03h5M323.6 282.03h-5M36.6 281.11h5M323.6 281.11h-5M36.6 280.3h5M323.6 280.3h-5M36.6 279.57h9.9M323.6 279.57h-9.9M36.6 274.79h5M323.6 274.79h-5M36.6 272h5M323.6 272h-5M36.6 270.02h5M323.6 270.02h-5M36.6 268.48h5M323.6 268.48h-5M36.6 267.22h5M323.6 267.22h-5M36.6 266.16h5M323.6 266.16h-5M36.6 265.24h5M323.6 265.24h-5M36.6 264.43h5M323.6 264.43h-5M36.6 263.7h9.9M323.6 263.7h-9.9M36.6 258.92h5M323.6 258.92h-5M44.79 421.4v-2.4M44.79 258.2v2.4M44.79 472v-1.4M44.79 424.3v1.4M51.47 421.4v-2.4M51.47 258.2v2.4M51.47 472v-1.4M51.47 424.3v1.4M57.13 421.4v-2.4M57.13 258.2v2.4M57.13 472v-1.4M57.13 424.3v1.4M62.03 421.4v-2.4M62.03 258.2v2.4M62.03 472v-1.4M62.03 424.3v1.4M66.35 421.4v-2.4M66.35 258.2v2.4M66.35 472v-1.4M66.35 424.3v1.4M70.21 421.4v-4.6M70.21 258.2v4.6M70.21 472v-2.6M70.21 424.3v2.6M95.64 421.4v-2.4M95.64 258.2v2.4M95.64 472v-1.4M95.64 424.3v1.4M110.51 421.4v-2.4M110.51 258.2v2.4M110.51 472v-1.4M110.51 424.3v1.4M121.06 421.4v-2.4M121.06 258.2v2.4M121.06 472v-1.4M121.06 424.3v1.4M129.25 421.4v-2.4M129.25 258.2v2.4M129.25 472v-1.4M129.25 424.3v1.4M135.94 421.4v-2.4M135.94 258.2v2.4M135.94 472v-1.4M135.94 424.3v1.4M141.59 421.4v-2.4M141.59 258.2v2.4M141.59 472v-1.4M141.59 424.3v1.4M146.49 421.4v-2.4M146.49 258.2v2.4M146.49 472v-1.4M146.49 424.3v1.4M150.81 421.4v-2.4M150.81 258.2v2.4M150.81 472v-1.4M150.81 424.3v1.4M154.67 421.4v-4.6M154.67 258.2v4.6M154.67 472v-2.6M154.67 424.3v2.6M180.1 421.4v-2.4M180.1 258.2v2.4M180.1 472v-1.4M180.1 424.3v1.4M194.97 421.4v-2.4M194.97 258.2v2.4M194.97 472v-1.4M194.97 424.3v1.4M205.53 421.4v-2.4M205.53 258.2v2.4M205.53 472v-1.4M205.53 424.3v1.4M213.71 421.4v-2.4M213.71 258.2v2.4M213.71 472v-1.4M213.71 424.3v1.4M220.4 421.4v-2.4M220.4 258.2v2.4M220.4 472v-1.4M220.4 424.3v1.4M226.05 421.4v-2.4M226.05 258.2v2.4M226.05 472v-1.4M226.05 424.3v1.4M230.95 421.4v-2.4M230.95 258.2v2.4M230.95 472v-1.4M230.95 424.3v1.4M235.27 421.4v-2.4M235.27 258.2v2.4M235.27 472v-1.4M235.27 424.3v1.4M239.14 421.4v-4.6M239.14 258.2v4.6M239.14 472v-2.6M239.14 424.3v2.6M264.56 421.4v-2.4M264.56 258.2v2.4M264.56 472v-1.4M264.56 424.3v1.4M279.44 421.4v-2.4M279.44 258.2v2.4M279.44 472v-1.4M279.44 424.3v1.4M289.99 421.4v-2.4M289.99 258.2v2.4M289.99 472v-1.4M289.99 424.3v1.4M298.17 421.4v-2.4M298.17 258.2v2.4M298.17 472v-1.4M298.17 424.3v1.4M304.86 421.4v-2.4M304.86 258.2v2.4M304.86 472v-1.4M304.86 424.3v1.4M310.52 421.4v-2.4M310.52 258.2v2.4M310.52 472v-1.4M310.52 424.3v1.4M315.41 421.4v-2.4M315.41 258.2v2.4M315.41 472v-1.4M315.41 424.3v1.4M319.74 421.4v-2.4M319.74 258.2v2.4M319.74 472v-1.4M319.74 424.3v1.4" stroke="#0a0a0a" stroke-width="0.9" fill="none"/>
<rect x="36.6" y="258.2" width="287" height="163.2" fill="none" stroke="#2a2a2a" stroke-width="0.8"/>
<path d="M36.6 421.25H323.6" stroke="#b8282c" stroke-width="1.5" opacity="0.85"/>
<g fill="#000" clip-path="url(#cmc)"><circle cx="51.47" cy="294.7" r="2.55"/><circle cx="70.21" cy="294.7" r="2.55"/><circle cx="82.55" cy="294.9" r="2.55"/><circle cx="91.77" cy="295.09" r="2.55"/><circle cx="99.13" cy="295.3" r="2.55"/><circle cx="105.96" cy="295.5" r="2.55"/><circle cx="112.3" cy="296" r="2.55"/><circle cx="117.7" cy="296.39" r="2.55"/><circle cx="122.85" cy="296.91" r="2.55"/><circle cx="127.75" cy="297.51" r="2.55"/><circle cx="132.07" cy="298.11" r="2.55"/><circle cx="136.24" cy="298.74" r="2.55"/><circle cx="140.53" cy="299.51" r="2.55"/><circle cx="144.85" cy="300.31" r="2.55"/><circle cx="149.14" cy="300.96" r="2.55"/><circle cx="153.37" cy="301.59" r="2.55"/><circle cx="157.5" cy="302.39" r="2.55"/><circle cx="161.67" cy="303.32" r="2.55"/><circle cx="166.09" cy="304.38" r="2.55"/><circle cx="170.75" cy="305.54" r="2.55"/><circle cx="175.62" cy="306.7" r="2.55"/><circle cx="180.83" cy="308.16" r="2.55"/><circle cx="186.56" cy="309.73" r="2.55"/><circle cx="193.09" cy="312.02" r="2.55"/><circle cx="200.78" cy="314.76" r="2.55"/><circle cx="210.45" cy="317.81" r="2.55"/><circle cx="220.98" cy="321.99" r="2.55"/><circle cx="231.25" cy="325.87" r="2.55"/><circle cx="240.42" cy="330.36" r="2.55"/><circle cx="249.45" cy="334.18" r="2.55"/><circle cx="259.06" cy="338.89" r="2.55"/><circle cx="268.63" cy="343.53" r="2.55"/><circle cx="278.19" cy="347.85" r="2.55"/><circle cx="291.24" cy="354.19" r="2.55"/><circle cx="313.05" cy="362.65" r="2.55"/></g>
<g clip-path="url(#crc)">
<path d="M37 434.9H323.6M37 461.5H323.6" stroke="#000" stroke-width="1" stroke-dasharray="1 1.1" fill="none"/>
<path d="M44.79 424V472M51.47 424V472M57.13 424V472M62.03 424V472M66.35 424V472M70.21 424V472M95.64 424V472M110.51 424V472M121.06 424V472M129.25 424V472M135.94 424V472M141.59 424V472M146.49 424V472M150.81 424V472M154.67 424V472M180.1 424V472M194.97 424V472M205.53 424V472M213.71 424V472M220.4 424V472M226.05 424V472M230.95 424V472M235.27 424V472M239.14 424V472M264.56 424V472M279.44 424V472M289.99 424V472M298.17 424V472M304.86 424V472M310.52 424V472M315.41 424V472M319.74 424V472" stroke="#111" stroke-width="0.72" stroke-dasharray="1 1.1" fill="none"/>
<path d="M36.6 445.3L36.6 445.3L62.03 445.3L62.03 445.3L76.9 445.3L76.9 445.3L87.45 445.3L87.45 445.3L95.64 445.3L95.64 445.3L102.32 445.3L102.32 445.3L109.27 445.3L109.27 445.3L115.1 445.3L115.1 445.3L120.13 445.3L120.13 445.3L125.38 445.3L125.38 445.3L129.97 445.3L129.97 445.3L134.05 445.3L134.05 445.3L138.3 445.3L138.3 445.3L142.62 445.3L142.62 445.3L146.94 445.3L146.94 445.3L151.21 445.3L151.21 445.3L155.4 445.3L155.4 445.3L159.48 445.3L159.48 445.3L163.73 445.3L163.73 445.3L168.3 445.3L168.3 445.3L173.04 445.3L173.04 445.3L178.02 445.3L178.02 445.3L183.43 445.3L183.43 445.3L189.44 445.3L189.44 445.3L196.41 445.3L196.41 445.3L204.69 445.3L204.69 445.3L215.43 445.3L215.43 445.3L225.79 445.3L225.79 445.3L236 445.3L236 444.7L244.36 444.7L244.36 444.3L253.91 444.3L253.91 442L263.58 442L263.58 442L273.07 442L273.07 441.6L282.68 441.6L282.68 440.8L298.17 440.8L298.17 440.4L323.6 440.4L323.6 456L298.17 456L298.17 455.6L282.68 455.6L282.68 454.8L273.07 454.8L273.07 454.4L263.58 454.4L263.58 454.4L253.91 454.4L253.91 452.1L244.36 452.1L244.36 451.7L236 451.7L236 451.1L225.79 451.1L225.79 451.1L215.43 451.1L215.43 451.1L204.69 451.1L204.69 451.1L196.41 451.1L196.41 451.1L189.44 451.1L189.44 451.1L183.43 451.1L183.43 451.1L178.02 451.1L178.02 451.1L173.04 451.1L173.04 451.1L168.3 451.1L168.3 451.1L163.73 451.1L163.73 451.1L159.48 451.1L159.48 451.1L155.4 451.1L155.4 451.1L151.21 451.1L151.21 451.1L146.94 451.1L146.94 451.1L142.62 451.1L142.62 451.1L138.3 451.1L138.3 451.1L134.05 451.1L134.05 451.1L129.97 451.1L129.97 451.1L125.38 451.1L125.38 451.1L120.13 451.1L120.13 451.1L115.1 451.1L115.1 451.1L109.27 451.1L109.27 451.1L102.32 451.1L102.32 451.1L95.64 451.1L95.64 451.1L87.45 451.1L87.45 451.1L76.9 451.1L76.9 451.1L62.03 451.1L62.03 451.1L36.6 451.1Z" fill="#cbcbcb"/>
<path d="M36.6 448.2H323.6" stroke="#505050" stroke-width="0.8" stroke-dasharray="2 1.75" fill="none"/>
<path d="M36.6 454.51H62.03M62.03 452.7H76.9M76.9 454H87.45M87.45 454H95.64M95.64 454H102.32M102.32 454.7H109.27M109.27 453.48H115.1M115.1 452.7H120.13M120.13 453.2H125.38M125.38 451.08H129.97M129.97 450.16H134.05M134.05 449.71H138.3M138.3 449.11H142.62M142.62 448.54H146.94M146.94 447.35H151.21M151.21 446.81H155.4M155.4 446.51H159.48M159.48 446.97H163.73M163.73 447.38H168.3M168.3 447.8H173.04M173.04 448H178.02M178.02 448H183.43M183.43 448.5H189.44M189.44 448.8H196.41M196.41 448.02H204.69M204.69 445.02H215.43M215.43 438.45H225.79M225.79 429.95H236" stroke="#6c6c6c" stroke-width="1.05" fill="none"/>
<g fill="#636363"><circle cx="51.47" cy="454.51" r="2.55"/><circle cx="70.21" cy="452.7" r="2.55"/><circle cx="82.55" cy="454" r="2.55"/><circle cx="91.77" cy="454" r="2.55"/><circle cx="99.13" cy="454" r="2.55"/><circle cx="105.96" cy="454.7" r="2.55"/><circle cx="112.3" cy="453.48" r="2.55"/><circle cx="117.7" cy="452.7" r="2.55"/><circle cx="122.85" cy="453.2" r="2.55"/><circle cx="127.75" cy="451.08" r="2.55"/><circle cx="132.07" cy="450.16" r="2.55"/><circle cx="136.24" cy="449.71" r="2.55"/><circle cx="140.53" cy="449.11" r="2.55"/><circle cx="144.85" cy="448.54" r="2.55"/><circle cx="149.14" cy="447.35" r="2.55"/><circle cx="153.37" cy="446.81" r="2.55"/><circle cx="157.5" cy="446.51" r="2.55"/><circle cx="161.67" cy="446.97" r="2.55"/><circle cx="166.09" cy="447.38" r="2.55"/><circle cx="170.75" cy="447.8" r="2.55"/><circle cx="175.62" cy="448" r="2.55"/><circle cx="180.83" cy="448" r="2.55"/><circle cx="186.56" cy="448.5" r="2.55"/><circle cx="193.09" cy="448.8" r="2.55"/><circle cx="200.78" cy="448.02" r="2.55"/><circle cx="210.45" cy="445.02" r="2.55"/><circle cx="220.98" cy="438.45" r="2.55"/><circle cx="231.25" cy="429.95" r="2.55"/></g>
</g>
<path d="M36.6 461.5h6.5M323.6 461.5h-6.5M36.6 448.2h6.5M323.6 448.2h-6.5M36.6 434.9h6.5M323.6 434.9h-6.5" stroke="#2a2a2a" stroke-width="0.9" fill="none"/>
<rect x="36.6" y="424.3" width="287" height="47.7" fill="none" stroke="#2a2a2a" stroke-width="0.8"/>
<path d="M54.89 274.23h4.45" stroke="#111" stroke-width="0.6"/>
<path d="M213.8 266.5H232.2" stroke="#000" stroke-width="1"/>
<circle cx="223" cy="266.5" r="2.1" fill="#000"/>
<rect x="213.8" y="273.35" width="18.4" height="6.9" fill="#3399ff"/>
<path d="M213.8 276.8H232.2" stroke="#1f5fa8" stroke-width="0.8"/>
<circle cx="223" cy="276.8" r="2.1" fill="#000"/>
<rect x="213.8" y="283.15" width="18.4" height="6.9" fill="#ffcc00"/>
<path d="M213.8 286.6H232.2" stroke="#b38600" stroke-width="0.8"/>
<circle cx="223" cy="286.6" r="2.1" fill="#000"/>
<rect x="213.8" y="293.15" width="18.4" height="6.9" fill="#ff3300"/>
<path d="M213.8 296.6H232.2" stroke="#a02a10" stroke-width="0.8"/>
<circle cx="223" cy="296.6" r="2.1" fill="#000"/>
<g fill="#0c0c0c" stroke="#0c0c0c" stroke-width="0.1"><text transform="translate(33 409.27)" font-size="7.6" text-anchor="end">10</text><text transform="translate(32.8 394.26)" font-size="7.6" text-anchor="end">10<tspan font-size="5.17" dy="-3.04">2</tspan></text><text transform="translate(32.8 378.39)" font-size="7.6" text-anchor="end">10<tspan font-size="5.17" dy="-3.04">3</tspan></text><text transform="translate(32.8 362.52)" font-size="7.6" text-anchor="end">10<tspan font-size="5.17" dy="-3.04">4</tspan></text><text transform="translate(32.8 346.65)" font-size="7.6" text-anchor="end">10<tspan font-size="5.17" dy="-3.04">5</tspan></text><text transform="translate(32.8 330.78)" font-size="7.6" text-anchor="end">10<tspan font-size="5.17" dy="-3.04">6</tspan></text><text transform="translate(32.8 314.91)" font-size="7.6" text-anchor="end">10<tspan font-size="5.17" dy="-3.04">7</tspan></text><text transform="translate(32.8 299.04)" font-size="7.6" text-anchor="end">10<tspan font-size="5.17" dy="-3.04">8</tspan></text><text transform="translate(32.8 283.17)" font-size="7.6" text-anchor="end">10<tspan font-size="5.17" dy="-3.04">9</tspan></text><text transform="translate(32.8 267.3)" font-size="7.6" text-anchor="end">10<tspan font-size="5.17" dy="-3.04">10</tspan></text><text transform="translate(34.2 437.56) scale(1.05 1)" font-size="7.4" text-anchor="end">1.05</text><text transform="translate(34.2 450.86) scale(1.05 1)" font-size="7.4" text-anchor="end">1</text><text transform="translate(34.2 464.16) scale(1.05 1)" font-size="7.4" text-anchor="end">0.95</text><text transform="translate(69.91 483.4)" font-size="8.11" text-anchor="middle">10<tspan font-size="5.3" dy="-3.12">−2</tspan></text><text transform="translate(154.37 483.4)" font-size="8.11" text-anchor="middle">10<tspan font-size="5.3" dy="-3.12">−1</tspan></text><text transform="translate(239.64 482.5)" font-size="7.8" text-anchor="middle">1</text><text transform="translate(323.8 482.5)" font-size="7.8" text-anchor="middle">10</text><text transform="translate(8.8 257.6) rotate(-90) scale(0.91 1)" font-size="10.4" text-anchor="end">Events / bin width</text><text transform="translate(9.9 448.15) rotate(-90)" font-size="10.6" text-anchor="middle">Data/Pred.</text><text x="279.7" y="490.5" font-size="11.6" stroke-width="0.1" font-family="DejaVu Sans">ϕ</text><text x="286.3" y="488.3" font-size="9.6">*</text><text x="286.6" y="496.2" font-size="7.3">η</text><text x="294.0" y="490.5" font-size="10.7">(ee)</text><text transform="translate(50.9 270.4) scale(1.06 1)" font-size="9.5" font-weight="bold" font-style="italic">ATLAS</text><text transform="translate(50.9 279.8) scale(1.03 1)" font-size="8"><tspan font-size="7.6" dy="0.4" font-weight="bold">√</tspan><tspan dx="-0.64" dy="-0.4">s=13 TeV, 36.1 fb</tspan><tspan font-size="5.28" dy="-3.6">-1</tspan></text><text transform="translate(236.5 268.67) scale(1.03 1)" font-size="7.7">Data</text><text transform="translate(236.5 278.97) scale(1.03 1)" font-size="7.7">Z/γ*<tspan font-size="11" dx="-0.9" dy="-0.75">→</tspan><tspan dy="0.75" dx="-0.6" font-size="5"> </tspan>ee</text><text transform="translate(236.5 288.77) scale(1.03 1)" font-size="7.7">NLO EW+Top, γγ<tspan font-size="11" dx="-0.9" dy="-0.75">→</tspan><tspan dy="0.75" dx="-0.6" font-size="5"> </tspan>ll</text><text transform="translate(236.5 298.77) scale(1.03 1)" font-size="7.7">Multijet Background</text></g>
</g>
<g>
<clipPath id="cmd"><rect x="393.8" y="258.2" width="287.2" height="163.2"/></clipPath>
<clipPath id="crd"><rect x="393.8" y="424.3" width="287.2" height="47.7"/></clipPath>
<g clip-path="url(#cmd)">
<path d="M393.8 421.4L393.8 294.6L419.24 294.6L419.24 294.6L434.13 294.6L434.13 294.8L444.69 294.8L444.69 295L452.88 295L452.88 295.2L459.57 295.2L459.57 295.4L466.52 295.4L466.52 295.9L472.36 295.9L472.36 296.3L477.39 296.3L477.39 296.81L482.65 296.81L482.65 297.42L487.24 297.42L487.24 298.01L491.32 298.01L491.32 298.65L495.57 298.65L495.57 299.42L499.9 299.42L499.9 300.22L504.22 300.22L504.22 300.87L508.49 300.87L508.49 301.5L512.68 301.5L512.68 302.31L516.77 302.31L516.77 303.24L521.02 303.24L521.02 304.3L525.6 304.3L525.6 305.46L530.34 305.46L530.34 306.63L535.32 306.63L535.32 308.09L540.73 308.09L540.73 309.66L546.75 309.66L546.75 311.96L553.72 311.96L553.72 314.8L562.01 314.8L562.01 318.02L572.76 318.02L572.76 322.39L583.12 322.39L583.12 326.45L593.34 326.45L593.34 331.03L601.7 331.03L601.7 334.84L611.26 334.84L611.26 339.56L620.94 339.56L620.94 344.2L630.43 344.2L630.43 348.53L640.05 348.53L640.05 354.86L655.56 354.86L655.56 363.31L681 363.31L681 421.4Z" fill="#3399ff"/>
<path d="M393.8 421.4L393.8 338.7L419.24 338.7L419.24 338.7L434.13 338.7L434.13 340.7L444.69 340.7L444.69 340.9L452.88 340.9L452.88 340.5L459.57 340.5L459.57 340.8L466.52 340.8L466.52 340.5L472.36 340.5L472.36 340.7L477.39 340.7L477.39 340.9L482.65 340.9L482.65 340.6L487.24 340.6L487.24 340.4L491.32 340.4L491.32 340.8L495.57 340.8L495.57 341.3L499.9 341.3L499.9 341.8L504.22 341.8L504.22 342.4L508.49 342.4L508.49 342.2L512.68 342.2L512.68 342.8L516.77 342.8L516.77 343.3L521.02 343.3L521.02 343.9L525.6 343.9L525.6 344.3L530.34 344.3L530.34 344.7L535.32 344.7L535.32 345.2L540.73 345.2L540.73 345.8L546.75 345.8L546.75 346.3L553.72 346.3L553.72 346.9L562.01 346.9L562.01 347.5L572.76 347.5L572.76 348.2L583.12 348.2L583.12 349.5L593.34 349.5L593.34 352.3L601.7 352.3L601.7 355.5L611.26 355.5L611.26 361.5L620.94 361.5L620.94 366.3L630.43 366.3L630.43 371.1L640.05 371.1L640.05 376.4L655.56 376.4L655.56 383.2L681 383.2L681 421.4Z" fill="#ffcc00"/>
<path d="M393.8 421.4L393.8 338.7L419.24 338.7L419.24 338.7L434.13 338.7L434.13 340.7L444.69 340.7L444.69 340.9L452.88 340.9L452.88 340.5L459.57 340.5L459.57 340.8L466.52 340.8L466.52 340.5L472.36 340.5L472.36 340.7L477.39 340.7L477.39 340.9L482.65 340.9L482.65 340.6L487.24 340.6L487.24 340.4L491.32 340.4L491.32 340.8L495.57 340.8L495.57 341.3L499.9 341.3L499.9 341.8L504.22 341.8L504.22 342.4L508.49 342.4L508.49 342.2L512.68 342.2L512.68 342.8L516.77 342.8L516.77 343.3L521.02 343.3L521.02 343.9L525.6 343.9L525.6 344.3L530.34 344.3L530.34 344.7L535.32 344.7L535.32 345.2L540.73 345.2L540.73 345.8L546.75 345.8L546.75 346.3L553.72 346.3L553.72 346.9L562.01 346.9L562.01 347.5L572.76 347.5L572.76 348.2L583.12 348.2L583.12 349.5L593.34 349.5L593.34 352.3L601.7 352.3L601.7 355.5L611.26 355.5L611.26 361.5L620.94 361.5L620.94 366.3L630.43 366.3L630.43 371.1L640.05 371.1L640.05 376.4L655.56 376.4L655.56 383.2L681 383.2L681 421.4" fill="none" stroke="#ffa000" stroke-width="1.3"/>
<path d="M393.8 421.4L393.8 374.4L419.24 374.4L419.24 380.5L434.13 380.5L434.13 370.1L444.69 370.1L444.69 367.5L452.88 367.5L452.88 362.6L459.57 362.6L459.57 364L466.52 364L466.52 365.4L472.36 365.4L472.36 367L477.39 367L477.39 368.7L482.65 368.7L482.65 370.1L487.24 370.1L487.24 372.8L491.32 372.8L491.32 371.9L495.57 371.9L495.57 371.4L499.9 371.4L499.9 370.1L504.22 370.1L504.22 370.1L508.49 370.1L508.49 370.7L512.68 370.7L512.68 366.1L516.77 366.1L516.77 367L521.02 367L521.02 368.9L525.6 368.9L525.6 377.2L530.34 377.2L530.34 382.1L535.32 382.1L535.32 373.7L540.73 373.7L540.73 374.2L546.75 374.2L546.75 372.8L553.72 372.8L553.72 375L562.01 375L562.01 375.5L572.76 375.5L572.76 376L583.12 376L583.12 379.6L593.34 379.6L593.34 381.2L601.7 381.2L601.7 386.3L611.26 386.3L611.26 386.3L620.94 386.3L620.94 392.3L630.43 392.3L630.43 394L640.05 394L640.05 401.2L655.56 401.2L655.56 410.2L681 410.2L681 421.4Z" fill="#ff3300"/>
<path d="M393.8 421.4L393.8 374.4L419.24 374.4L419.24 380.5L434.13 380.5L434.13 370.1L444.69 370.1L444.69 367.5L452.88 367.5L452.88 362.6L459.57 362.6L459.57 364L466.52 364L466.52 365.4L472.36 365.4L472.36 367L477.39 367L477.39 368.7L482.65 368.7L482.65 370.1L487.24 370.1L487.24 372.8L491.32 372.8L491.32 371.9L495.57 371.9L495.57 371.4L499.9 371.4L499.9 370.1L504.22 370.1L504.22 370.1L508.49 370.1L508.49 370.7L512.68 370.7L512.68 366.1L516.77 366.1L516.77 367L521.02 367L521.02 368.9L525.6 368.9L525.6 377.2L530.34 377.2L530.34 382.1L535.32 382.1L535.32 373.7L540.73 373.7L540.73 374.2L546.75 374.2L546.75 372.8L553.72 372.8L553.72 375L562.01 375L562.01 375.5L572.76 375.5L572.76 376L583.12 376L583.12 379.6L593.34 379.6L593.34 381.2L601.7 381.2L601.7 386.3L611.26 386.3L611.26 386.3L620.94 386.3L620.94 392.3L630.43 392.3L630.43 394L640.05 394L640.05 401.2L655.56 401.2L655.56 410.2L681 410.2L681 421.4" fill="none" stroke="#c4363a" stroke-width="1.2"/>
<path d="M393.8 421.4L393.8 294.6L419.24 294.6L419.24 294.6L434.13 294.6L434.13 294.8L444.69 294.8L444.69 295L452.88 295L452.88 295.2L459.57 295.2L459.57 295.4L466.52 295.4L466.52 295.9L472.36 295.9L472.36 296.3L477.39 296.3L477.39 296.81L482.65 296.81L482.65 297.42L487.24 297.42L487.24 298.01L491.32 298.01L491.32 298.65L495.57 298.65L495.57 299.42L499.9 299.42L499.9 300.22L504.22 300.22L504.22 300.87L508.49 300.87L508.49 301.5L512.68 301.5L512.68 302.31L516.77 302.31L516.77 303.24L521.02 303.24L521.02 304.3L525.6 304.3L525.6 305.46L530.34 305.46L530.34 306.63L535.32 306.63L535.32 308.09L540.73 308.09L540.73 309.66L546.75 309.66L546.75 311.96L553.72 311.96L553.72 314.8L562.01 314.8L562.01 318.02L572.76 318.02L572.76 322.39L583.12 322.39L583.12 326.45L593.34 326.45L593.34 331.03L601.7 331.03L601.7 334.84L611.26 334.84L611.26 339.56L620.94 339.56L620.94 344.2L630.43 344.2L630.43 348.53L640.05 348.53L640.05 354.86L655.56 354.86L655.56 363.31L681 363.31L681 421.4" fill="none" stroke="#0b2f80" stroke-width="0.65"/>
<path d="M393.8 294.3H419.24M419.24 294.3H434.13M434.13 294.5H444.69M444.69 294.7H452.88M452.88 294.9H459.57M459.57 295.1H466.52M466.52 295.6H472.36M472.36 296H477.39M477.39 296.51H482.65M482.65 297.12H487.24M487.24 297.71H491.32M491.32 298.35H495.57M495.57 299.12H499.9M499.9 299.92H504.22M504.22 300.57H508.49M508.49 301.2H512.68M512.68 302.01H516.77M516.77 302.94H521.02M521.02 304H525.6M525.6 305.16H530.34M530.34 306.33H535.32M535.32 307.79H540.73M540.73 309.36H546.75M546.75 311.66H553.72M553.72 314.4H562.01M562.01 317.46H572.76" fill="none" stroke="#0a0a9c" stroke-width="1.5"/>
<path d="M572.76 321.64H583.12M583.12 325.52H593.34M593.34 330.03H601.7M601.7 333.84H611.26M611.26 338.56H620.94M620.94 343.2H630.43M630.43 347.53H640.05M640.05 353.86H655.56M655.56 362.31H681" fill="none" stroke="#0a0a9c" stroke-width="0.95" opacity="0.85"/>
</g>
<path d="M393.8 417.62h5M681 417.62h-5M393.8 414.83h5M681 414.83h-5M393.8 412.85h5M681 412.85h-5M393.8 411.31h5M681 411.31h-5M393.8 410.05h5M681 410.05h-5M393.8 408.99h5M681 408.99h-5M393.8 408.07h5M681 408.07h-5M393.8 407.26h5M681 407.26h-5M393.8 406.53h9.9M681 406.53h-9.9M393.8 401.75h5M681 401.75h-5M393.8 398.96h5M681 398.96h-5M393.8 396.98h5M681 396.98h-5M393.8 395.44h5M681 395.44h-5M393.8 394.18h5M681 394.18h-5M393.8 393.12h5M681 393.12h-5M393.8 392.2h5M681 392.2h-5M393.8 391.39h5M681 391.39h-5M393.8 390.66h9.9M681 390.66h-9.9M393.8 385.88h5M681 385.88h-5M393.8 383.09h5M681 383.09h-5M393.8 381.11h5M681 381.11h-5M393.8 379.57h5M681 379.57h-5M393.8 378.31h5M681 378.31h-5M393.8 377.25h5M681 377.25h-5M393.8 376.33h5M681 376.33h-5M393.8 375.52h5M681 375.52h-5M393.8 374.79h9.9M681 374.79h-9.9M393.8 370.01h5M681 370.01h-5M393.8 367.22h5M681 367.22h-5M393.8 365.24h5M681 365.24h-5M393.8 363.7h5M681 363.7h-5M393.8 362.44h5M681 362.44h-5M393.8 361.38h5M681 361.38h-5M393.8 360.46h5M681 360.46h-5M393.8 359.65h5M681 359.65h-5M393.8 358.92h9.9M681 358.92h-9.9M393.8 354.14h5M681 354.14h-5M393.8 351.35h5M681 351.35h-5M393.8 349.37h5M681 349.37h-5M393.8 347.83h5M681 347.83h-5M393.8 346.57h5M681 346.57h-5M393.8 345.51h5M681 345.51h-5M393.8 344.59h5M681 344.59h-5M393.8 343.78h5M681 343.78h-5M393.8 343.05h9.9M681 343.05h-9.9M393.8 338.27h5M681 338.27h-5M393.8 335.48h5M681 335.48h-5M393.8 333.5h5M681 333.5h-5M393.8 331.96h5M681 331.96h-5M393.8 330.7h5M681 330.7h-5M393.8 329.64h5M681 329.64h-5M393.8 328.72h5M681 328.72h-5M393.8 327.91h5M681 327.91h-5M393.8 327.18h9.9M681 327.18h-9.9M393.8 322.4h5M681 322.4h-5M393.8 319.61h5M681 319.61h-5M393.8 317.63h5M681 317.63h-5M393.8 316.09h5M681 316.09h-5M393.8 314.83h5M681 314.83h-5M393.8 313.77h5M681 313.77h-5M393.8 312.85h5M681 312.85h-5M393.8 312.04h5M681 312.04h-5M393.8 311.31h9.9M681 311.31h-9.9M393.8 306.53h5M681 306.53h-5M393.8 303.74h5M681 303.74h-5M393.8 301.76h5M681 301.76h-5M393.8 300.22h5M681 300.22h-5M393.8 298.96h5M681 298.96h-5M393.8 297.9h5M681 297.9h-5M393.8 296.98h5M681 296.98h-5M393.8 296.17h5M681 296.17h-5M393.8 295.44h9.9M681 295.44h-9.9M393.8 290.66h5M681 290.66h-5M393.8 287.87h5M681 287.87h-5M393.8 285.89h5M681 285.89h-5M393.8 284.35h5M681 284.35h-5M393.8 283.09h5M681 283.09h-5M393.8 282.03h5M681 282.03h-5M393.8 281.11h5M681 281.11h-5M393.8 280.3h5M681 280.3h-5M393.8 279.57h9.9M681 279.57h-9.9M393.8 274.79h5M681 274.79h-5M393.8 272h5M681 272h-5M393.8 270.02h5M681 270.02h-5M393.8 268.48h5M681 268.48h-5M393.8 267.22h5M681 267.22h-5M393.8 266.16h5M681 266.16h-5M393.8 265.24h5M681 265.24h-5M393.8 264.43h5M681 264.43h-5M393.8 263.7h9.9M681 263.7h-9.9M393.8 258.92h5M681 258.92h-5M401.99 421.4v-2.4M401.99 258.2v2.4M401.99 472v-1.4M401.99 424.3v1.4M408.68 421.4v-2.4M408.68 258.2v2.4M408.68 472v-1.4M408.68 424.3v1.4M414.34 421.4v-2.4M414.34 258.2v2.4M414.34 472v-1.4M414.34 424.3v1.4M419.24 421.4v-2.4M419.24 258.2v2.4M419.24 472v-1.4M419.24 424.3v1.4M423.57 421.4v-2.4M423.57 258.2v2.4M423.57 472v-1.4M423.57 424.3v1.4M427.43 421.4v-4.6M427.43 258.2v4.6M427.43 472v-2.6M427.43 424.3v2.6M452.88 421.4v-2.4M452.88 258.2v2.4M452.88 472v-1.4M452.88 424.3v1.4M467.76 421.4v-2.4M467.76 258.2v2.4M467.76 472v-1.4M467.76 424.3v1.4M478.32 421.4v-2.4M478.32 258.2v2.4M478.32 472v-1.4M478.32 424.3v1.4M486.51 421.4v-2.4M486.51 258.2v2.4M486.51 472v-1.4M486.51 424.3v1.4M493.21 421.4v-2.4M493.21 258.2v2.4M493.21 472v-1.4M493.21 424.3v1.4M498.86 421.4v-2.4M498.86 258.2v2.4M498.86 472v-1.4M498.86 424.3v1.4M503.77 421.4v-2.4M503.77 258.2v2.4M503.77 472v-1.4M503.77 424.3v1.4M508.09 421.4v-2.4M508.09 258.2v2.4M508.09 472v-1.4M508.09 424.3v1.4M511.96 421.4v-4.6M511.96 258.2v4.6M511.96 472v-2.6M511.96 424.3v2.6M537.4 421.4v-2.4M537.4 258.2v2.4M537.4 472v-1.4M537.4 424.3v1.4M552.28 421.4v-2.4M552.28 258.2v2.4M552.28 472v-1.4M552.28 424.3v1.4M562.84 421.4v-2.4M562.84 258.2v2.4M562.84 472v-1.4M562.84 424.3v1.4M571.03 421.4v-2.4M571.03 258.2v2.4M571.03 472v-1.4M571.03 424.3v1.4M577.73 421.4v-2.4M577.73 258.2v2.4M577.73 472v-1.4M577.73 424.3v1.4M583.39 421.4v-2.4M583.39 258.2v2.4M583.39 472v-1.4M583.39 424.3v1.4M588.29 421.4v-2.4M588.29 258.2v2.4M588.29 472v-1.4M588.29 424.3v1.4M592.61 421.4v-2.4M592.61 258.2v2.4M592.61 472v-1.4M592.61 424.3v1.4M596.48 421.4v-4.6M596.48 258.2v4.6M596.48 472v-2.6M596.48 424.3v2.6M621.92 421.4v-2.4M621.92 258.2v2.4M621.92 472v-1.4M621.92 424.3v1.4M636.81 421.4v-2.4M636.81 258.2v2.4M636.81 472v-1.4M636.81 424.3v1.4M647.37 421.4v-2.4M647.37 258.2v2.4M647.37 472v-1.4M647.37 424.3v1.4M655.56 421.4v-2.4M655.56 258.2v2.4M655.56 472v-1.4M655.56 424.3v1.4M662.25 421.4v-2.4M662.25 258.2v2.4M662.25 472v-1.4M662.25 424.3v1.4M667.91 421.4v-2.4M667.91 258.2v2.4M667.91 472v-1.4M667.91 424.3v1.4M672.81 421.4v-2.4M672.81 258.2v2.4M672.81 472v-1.4M672.81 424.3v1.4M677.13 421.4v-2.4M677.13 258.2v2.4M677.13 472v-1.4M677.13 424.3v1.4" stroke="#0a0a0a" stroke-width="0.9" fill="none"/>
<rect x="393.8" y="258.2" width="287.2" height="163.2" fill="none" stroke="#2a2a2a" stroke-width="0.8"/>
<path d="M393.8 421.25H681" stroke="#b8282c" stroke-width="1.5" opacity="0.85"/>
<g fill="#000" clip-path="url(#cmd)"><circle cx="408.68" cy="294.3" r="2.55"/><circle cx="427.43" cy="294.3" r="2.55"/><circle cx="439.79" cy="294.5" r="2.55"/><circle cx="449.01" cy="294.7" r="2.55"/><circle cx="456.38" cy="294.9" r="2.55"/><circle cx="463.21" cy="295.1" r="2.55"/><circle cx="469.55" cy="295.6" r="2.55"/><circle cx="474.96" cy="296" r="2.55"/><circle cx="480.11" cy="296.51" r="2.55"/><circle cx="485.01" cy="297.12" r="2.55"/><circle cx="489.34" cy="297.71" r="2.55"/><circle cx="493.51" cy="298.35" r="2.55"/><circle cx="497.8" cy="299.12" r="2.55"/><circle cx="502.12" cy="299.92" r="2.55"/><circle cx="506.42" cy="300.57" r="2.55"/><circle cx="510.65" cy="301.2" r="2.55"/><circle cx="514.78" cy="302.01" r="2.55"/><circle cx="518.95" cy="302.94" r="2.55"/><circle cx="523.38" cy="304" r="2.55"/><circle cx="528.04" cy="305.16" r="2.55"/><circle cx="532.92" cy="306.33" r="2.55"/><circle cx="538.13" cy="307.79" r="2.55"/><circle cx="543.86" cy="309.36" r="2.55"/><circle cx="550.4" cy="311.66" r="2.55"/><circle cx="558.1" cy="314.4" r="2.55"/><circle cx="567.77" cy="317.46" r="2.55"/><circle cx="578.3" cy="321.64" r="2.55"/><circle cx="588.58" cy="325.52" r="2.55"/><circle cx="597.76" cy="330.03" r="2.55"/><circle cx="606.79" cy="333.84" r="2.55"/><circle cx="616.42" cy="338.56" r="2.55"/><circle cx="625.99" cy="343.2" r="2.55"/><circle cx="635.55" cy="347.53" r="2.55"/><circle cx="648.61" cy="353.86" r="2.55"/><circle cx="670.44" cy="362.31" r="2.55"/></g>
<g clip-path="url(#crd)">
<path d="M394 434.9H681M394 461.5H681" stroke="#000" stroke-width="1" stroke-dasharray="1 1.1" fill="none"/>
<path d="M401.99 424V472M408.68 424V472M414.34 424V472M419.24 424V472M423.57 424V472M427.43 424V472M452.88 424V472M467.76 424V472M478.32 424V472M486.51 424V472M493.21 424V472M498.86 424V472M503.77 424V472M508.09 424V472M511.96 424V472M537.4 424V472M552.28 424V472M562.84 424V472M571.03 424V472M577.73 424V472M583.39 424V472M588.29 424V472M592.61 424V472M596.48 424V472M621.92 424V472M636.81 424V472M647.37 424V472M655.56 424V472M662.25 424V472M667.91 424V472M672.81 424V472M677.13 424V472" stroke="#111" stroke-width="0.72" stroke-dasharray="1 1.1" fill="none"/>
<path d="M393.8 443.4L393.8 443.4L419.24 443.4L419.24 443.4L434.13 443.4L434.13 443.4L444.69 443.4L444.69 443.4L452.88 443.4L452.88 443.4L459.57 443.4L459.57 443.4L466.52 443.4L466.52 443.4L472.36 443.4L472.36 443.4L477.39 443.4L477.39 443.4L482.65 443.4L482.65 443.4L487.24 443.4L487.24 443.4L491.32 443.4L491.32 443.4L495.57 443.4L495.57 443.4L499.9 443.4L499.9 443.4L504.22 443.4L504.22 443.4L508.49 443.4L508.49 443.4L512.68 443.4L512.68 443.4L516.77 443.4L516.77 443.4L521.02 443.4L521.02 443.4L525.6 443.4L525.6 443.4L530.34 443.4L530.34 443.4L535.32 443.4L535.32 443.4L540.73 443.4L540.73 443.4L546.75 443.4L546.75 443.4L553.72 443.4L553.72 443.4L562.01 443.4L562.01 443.4L572.76 443.4L572.76 443.4L583.12 443.4L583.12 443.4L593.34 443.4L593.34 443.4L601.7 443.4L601.7 443.4L611.26 443.4L611.26 443.4L620.94 443.4L620.94 443.4L630.43 443.4L630.43 443.4L640.05 443.4L640.05 443.2L655.56 443.2L655.56 443L681 443L681 453.4L655.56 453.4L655.56 453.2L640.05 453.2L640.05 453L630.43 453L630.43 453L620.94 453L620.94 453L611.26 453L611.26 453L601.7 453L601.7 453L593.34 453L593.34 453L583.12 453L583.12 453L572.76 453L572.76 453L562.01 453L562.01 453L553.72 453L553.72 453L546.75 453L546.75 453L540.73 453L540.73 453L535.32 453L535.32 453L530.34 453L530.34 453L525.6 453L525.6 453L521.02 453L521.02 453L516.77 453L516.77 453L512.68 453L512.68 453L508.49 453L508.49 453L504.22 453L504.22 453L499.9 453L499.9 453L495.57 453L495.57 453L491.32 453L491.32 453L487.24 453L487.24 453L482.65 453L482.65 453L477.39 453L477.39 453L472.36 453L472.36 453L466.52 453L466.52 453L459.57 453L459.57 453L452.88 453L452.88 453L444.69 453L444.69 453L434.13 453L434.13 453L419.24 453L419.24 453L393.8 453Z" fill="#cbcbcb"/>
<path d="M393.8 448.2H681" stroke="#505050" stroke-width="0.8" stroke-dasharray="2 1.75" fill="none"/>
<path d="M393.8 453.1H419.24M419.24 454.2H434.13M434.13 454.2H444.69M444.69 453.7H452.88M452.88 453.7H459.57M459.57 453.41H466.52M466.52 452.4H472.36M472.36 453.4H477.39M477.39 451.62H482.65M482.65 450.71H487.24M487.24 449.64H491.32M491.32 448.95H495.57M495.57 448.24H499.9M499.9 447.73H504.22M504.22 446.41H508.49M508.49 447.07H512.68M512.68 447.66H516.77M516.77 447.34H521.02M521.02 447.02H525.6M525.6 448.2H530.34M530.34 447.2H535.32M535.32 448.49H540.73M540.73 449H546.75M546.75 449H553.72M553.72 447.72H562.01M562.01 444.4H572.76M572.76 438.72H583.12M583.12 431.55H593.34" stroke="#6c6c6c" stroke-width="1.05" fill="none"/>
<g fill="#636363"><circle cx="408.68" cy="453.1" r="2.55"/><circle cx="427.43" cy="454.2" r="2.55"/><circle cx="439.79" cy="454.2" r="2.55"/><circle cx="449.01" cy="453.7" r="2.55"/><circle cx="456.38" cy="453.7" r="2.55"/><circle cx="463.21" cy="453.41" r="2.55"/><circle cx="469.55" cy="452.4" r="2.55"/><circle cx="474.96" cy="453.4" r="2.55"/><circle cx="480.11" cy="451.62" r="2.55"/><circle cx="485.01" cy="450.71" r="2.55"/><circle cx="489.34" cy="449.64" r="2.55"/><circle cx="493.51" cy="448.95" r="2.55"/><circle cx="497.8" cy="448.24" r="2.55"/><circle cx="502.12" cy="447.73" r="2.55"/><circle cx="506.42" cy="446.41" r="2.55"/><circle cx="510.65" cy="447.07" r="2.55"/><circle cx="514.78" cy="447.66" r="2.55"/><circle cx="518.95" cy="447.34" r="2.55"/><circle cx="523.38" cy="447.02" r="2.55"/><circle cx="528.04" cy="448.2" r="2.55"/><circle cx="532.92" cy="447.2" r="2.55"/><circle cx="538.13" cy="448.49" r="2.55"/><circle cx="543.86" cy="449" r="2.55"/><circle cx="550.4" cy="449" r="2.55"/><circle cx="558.1" cy="447.72" r="2.55"/><circle cx="567.77" cy="444.4" r="2.55"/><circle cx="578.3" cy="438.72" r="2.55"/><circle cx="588.58" cy="431.55" r="2.55"/></g>
</g>
<path d="M393.8 461.5h6.5M681 461.5h-6.5M393.8 448.2h6.5M681 448.2h-6.5M393.8 434.9h6.5M681 434.9h-6.5" stroke="#2a2a2a" stroke-width="0.9" fill="none"/>
<rect x="393.8" y="424.3" width="287.2" height="47.7" fill="none" stroke="#2a2a2a" stroke-width="0.8"/>
<path d="M412.19 274.23h4.45" stroke="#111" stroke-width="0.6"/>
<path d="M571 266.3H589.6" stroke="#0a0a9c" stroke-width="1"/>
<circle cx="580.3" cy="266.3" r="2.75" fill="#000"/>
<rect x="571" y="272.95" width="18.6" height="6.9" fill="#3399ff"/>
<path d="M571 276.4H589.6" stroke="#2277dd" stroke-width="0.8"/>
<circle cx="580.3" cy="276.4" r="0.7" fill="#123a7a"/>
<rect x="571" y="282.95" width="18.6" height="6.9" fill="#ffcc00"/>
<path d="M571 286.4H589.6" stroke="#ff9900" stroke-width="0.8"/>
<circle cx="580.3" cy="286.4" r="0.7" fill="#a86a00"/>
<rect x="571" y="292.95" width="18.6" height="6.9" fill="#ff3300"/>
<path d="M571 296.4H589.6" stroke="#dd2200" stroke-width="0.8"/>
<circle cx="580.3" cy="296.4" r="0.7" fill="#8a1c00"/>
<g fill="#0c0c0c" stroke="#0c0c0c" stroke-width="0.1"><text transform="translate(390.2 409.27)" font-size="7.6" text-anchor="end">10</text><text transform="translate(390 394.26)" font-size="7.6" text-anchor="end">10<tspan font-size="5.17" dy="-3.04">2</tspan></text><text transform="translate(390 378.39)" font-size="7.6" text-anchor="end">10<tspan font-size="5.17" dy="-3.04">3</tspan></text><text transform="translate(390 362.52)" font-size="7.6" text-anchor="end">10<tspan font-size="5.17" dy="-3.04">4</tspan></text><text transform="translate(390 346.65)" font-size="7.6" text-anchor="end">10<tspan font-size="5.17" dy="-3.04">5</tspan></text><text transform="translate(390 330.78)" font-size="7.6" text-anchor="end">10<tspan font-size="5.17" dy="-3.04">6</tspan></text><text transform="translate(390 314.91)" font-size="7.6" text-anchor="end">10<tspan font-size="5.17" dy="-3.04">7</tspan></text><text transform="translate(390 299.04)" font-size="7.6" text-anchor="end">10<tspan font-size="5.17" dy="-3.04">8</tspan></text><text transform="translate(390 283.17)" font-size="7.6" text-anchor="end">10<tspan font-size="5.17" dy="-3.04">9</tspan></text><text transform="translate(390 267.3)" font-size="7.6" text-anchor="end">10<tspan font-size="5.17" dy="-3.04">10</tspan></text><text transform="translate(391.4 437.56) scale(1.05 1)" font-size="7.4" text-anchor="end">1.05</text><text transform="translate(391.4 450.86) scale(1.05 1)" font-size="7.4" text-anchor="end">1</text><text transform="translate(391.4 464.16) scale(1.05 1)" font-size="7.4" text-anchor="end">0.95</text><text transform="translate(427.13 483.4)" font-size="8.11" text-anchor="middle">10<tspan font-size="5.3" dy="-3.12">−2</tspan></text><text transform="translate(511.66 483.4)" font-size="8.11" text-anchor="middle">10<tspan font-size="5.3" dy="-3.12">−1</tspan></text><text transform="translate(596.98 482.5)" font-size="7.8" text-anchor="middle">1</text><text transform="translate(681.2 482.5)" font-size="7.8" text-anchor="middle">10</text><text transform="translate(366 257.6) rotate(-90) scale(0.91 1)" font-size="10.4" text-anchor="end">Events / bin width</text><text transform="translate(367.2 448.15) rotate(-90)" font-size="10.6" text-anchor="middle">Data/Pred.</text><text x="637.7" y="490.5" font-size="11.6" stroke-width="0.1" font-family="DejaVu Sans">ϕ</text><text x="644.3" y="488.3" font-size="9.6">*</text><text x="644.6" y="496.2" font-size="7.3">η</text><text x="652.0" y="490.5" font-size="10.7">(μμ)</text><text transform="translate(408.1 270.4) scale(1.06 1)" font-size="9.5" font-weight="bold" font-style="italic">ATLAS</text><text transform="translate(408.2 279.8) scale(1.03 1)" font-size="8"><tspan font-size="7.6" dy="0.4" font-weight="bold">√</tspan><tspan dx="-0.64" dy="-0.4">s=13 TeV, 36.1 fb</tspan><tspan font-size="5.28" dy="-3.6">-1</tspan></text><text transform="translate(593.8 268.47) scale(1.03 1)" font-size="7.7">Data</text><text transform="translate(593.8 278.57) scale(1.03 1)" font-size="7.7">Z/γ*<tspan font-size="11" dx="-0.9" dy="-0.75">→</tspan><tspan dy="0.75" dx="-0.6" font-size="5"> </tspan>μμ</text><text transform="translate(593.8 288.57) scale(1.03 1)" font-size="7.7">NLO EW+Top, γγ<tspan font-size="11" dx="-0.9" dy="-0.75">→</tspan><tspan dy="0.75" dx="-0.6" font-size="5"> </tspan>ll</text><text transform="translate(593.8 298.57) scale(1.03 1)" font-size="7.7">Multijet Background</text></g>
</g>
</svg>
</body>
</html>
